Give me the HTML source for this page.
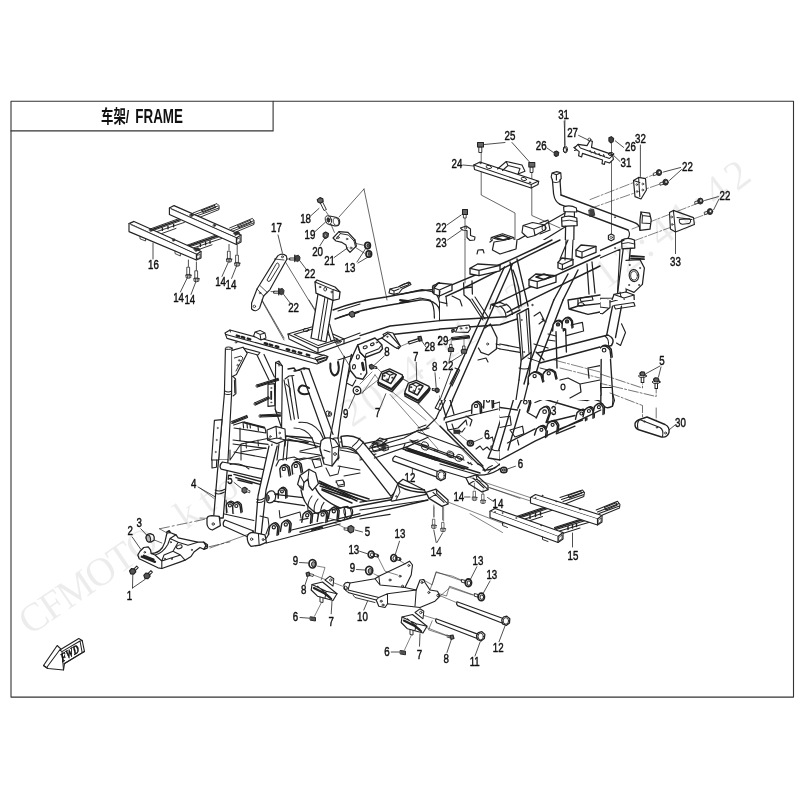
<!DOCTYPE html>
<html><head><meta charset="utf-8"><title>车架/ FRAME</title>
<style>html,body{margin:0;padding:0;background:#fff}svg{display:block;filter:grayscale(1)}text{font-family:"Liberation Sans","Noto Sans CJK SC",sans-serif}</style>
</head><body>
<svg width="800" height="800" viewBox="0 0 800 800" stroke-linejoin="round" stroke-linecap="round">
<rect width="800" height="800" fill="#fff"/>
<rect x="11" y="101.3" width="782.5" height="595.8" fill="none" stroke="#333" stroke-width="1.1"/>
<path d="M11,130.9 L273.1,130.9 L273.1,101.3" fill="none" stroke="#333" stroke-width="1.1"/>
<text transform="translate(101 123.2) scale(0.69 1)" font-size="18" font-weight="bold" fill="#111">车架/</text>
<text transform="translate(135.3 123.2) scale(0.66 1)" font-size="20.3" font-weight="bold" fill="#111">FRAME</text>
<path d="M 149.6,229.2 L 179,218.6 M 151,231.2 L 180.4,220.8 M 154.4,232.4 L 184.4,222.4 M 156,235.6 L 176,228.4" fill="none" stroke="#222" stroke-width="0.92"/>
<path d="M 151,230 L 180,219.6" fill="none" stroke="#222" stroke-width="1.49"/>
<path d="M 187,245.2 L 219,234 M 188.4,247.2 L 220.4,236.4 M 192,248.4 L 222,238.4 M 194,251.2 L 212,244.8" fill="none" stroke="#222" stroke-width="0.92"/>
<path d="M 188,246 L 219.6,235.2" fill="none" stroke="#222" stroke-width="1.49"/>
<path d="M 162.4,228 L 162.4,230.4 M 168,226.4 L 168,228.8 M 173.6,224.4 L 173.6,226.8 M 200.4,244 L 200.4,246.4 M 205.6,242.4 L 205.6,244.8 M 210,240.8 L 210,243.2" fill="none" stroke="#222" stroke-width="1.38"/>
<path d="M 193,213 L 217,203.6 L 219,205.6 L 219,209.6 L 198,218 M 195,214.4 L 218,206 M 196.4,216 L 219,208" fill="none" stroke="#222" stroke-width="0.92"/>
<path d="M 201.6,210.4 L 214.4,205.4 L 215.6,207.2 L 203.2,212.4 Z" fill="none" stroke="#222" stroke-width="1.03"/>
<path d="M 229.6,228 L 252.4,218.4 L 254,220.4 L 254,224.4 L 235,232.4 M 231,229.6 L 253.6,220.8 M 232.4,231.2 L 254,222.8" fill="none" stroke="#222" stroke-width="0.92"/>
<path d="M 237.6,225.6 L 250,220.4 L 251.2,222.4 L 239.2,227.6 Z" fill="none" stroke="#222" stroke-width="1.03"/>
<path d="M 194,249 L 198,247.6 L 200.4,249.6 L 196.4,251.6 Z M 233.6,233 L 238,231.2 L 240,233.2 L 236.4,235.2 Z" fill="#333" stroke="#222" stroke-width="0.57"/>
<path d="M 149.2,230 L 151.2,229.2 L 152,230.8 L 150,231.6 Z M 189.2,215.2 L 191.6,214.4 L 192.4,216 L 190,216.8 Z M 172.4,239.6 L 174.4,239.2 L 174.8,240.8 L 172.8,241.2 Z M 213.6,224.8 L 215.6,224.4 L 216,226 L 214,226.4 Z" fill="#333" stroke="#222" stroke-width="0.46"/>
<path d="M 169.4,208 L 174,205.6 L 241,235 L 236.4,238 Z" fill="#fff" stroke="#222" stroke-width="1.15"/>
<path d="M 169.4,208 L 169.4,214.4 L 236.4,244.4 L 236.4,238" fill="#fff" stroke="#222" stroke-width="1.15"/>
<path d="M 241,235 L 241,242 L 236.4,244.4" fill="#fff" stroke="#222" stroke-width="1.15"/>
<path d="M 237.2,239.2 L 240,237.6 L 240,241.2 L 237.2,242.8 Z" fill="none" stroke="#222" stroke-width="0.69"/>
<path d="M 129,223.6 L 134,221.4 L 201,251.6 L 196.4,254.4 Z" fill="#fff" stroke="#222" stroke-width="1.15"/>
<path d="M 129,223.6 L 129,231.6 L 196.4,260 L 196.4,254.4" fill="#fff" stroke="#222" stroke-width="1.15"/>
<path d="M 201,251.6 L 201,258 L 196.4,260" fill="#fff" stroke="#222" stroke-width="1.15"/>
<path d="M 197.2,255.6 L 200,254 L 200,257.6 L 197.2,258.8 Z" fill="none" stroke="#222" stroke-width="0.69"/>
<path d="M 140,236.4 L 140,238.8 L 145.6,241 L 145.6,238.8 M 175,251.2 L 175,253.6 L 180.4,256 L 180.4,253.6" fill="none" stroke="#222" stroke-width="0.8"/>
<path d="M 130.8,224.6 L 198,254.8 M 171.2,209 L 238,238.4" fill="none" stroke="#222" stroke-width="0.8"/>
<path d="M 149.2,229.6 L 151.6,228.6 L 153.2,230.4 L 150.8,231.6 Z M 194,249.2 L 196.8,248 L 198.8,250 L 196,251.4 Z M 189.6,214.8 L 192,213.8 L 193.6,215.6 L 191.2,216.8 Z M 233.6,233.2 L 236.4,232 L 238.4,234 L 235.6,235.4 Z M 172.4,239.4 L 174.4,238.8 L 175.2,240.4 L 173.2,241.2 Z M 213.2,224.8 L 215.2,224.2 L 216,225.8 L 214,226.6 Z" fill="#333" stroke="#222" stroke-width="0.57"/>
<path d="M 188.4,260 L 188.4,266.4" fill="none" stroke="#222" stroke-width="0.8"/>
<path d="M 196.4,262 L 196.4,270.4" fill="none" stroke="#222" stroke-width="0.8"/>
<path d="M 229,244.4 L 229,250" fill="none" stroke="#222" stroke-width="0.8"/>
<path d="M 237.2,245 L 237.2,254.4" fill="none" stroke="#222" stroke-width="0.8"/>
<g transform="translate(188.4 277.6) rotate(0) scale(0.2)" fill="#fff" stroke="#222" stroke-width="4"><rect x="-6" y="-52" width="12" height="42"/><ellipse cx="0" cy="-12" rx="14" ry="4"/><path d="M-12,-11 L-12,0 L0,3 L12,0 L12,-11 Z"/><path d="M-4.0,-9 L-4.0,2 M4.0,-9 L4.0,2" fill="none"/></g>
<g transform="translate(196.4 281.2) rotate(0) scale(0.2)" fill="#fff" stroke="#222" stroke-width="4"><rect x="-6" y="-52" width="12" height="42"/><ellipse cx="0" cy="-12" rx="14" ry="4"/><path d="M-12,-11 L-12,0 L0,3 L12,0 L12,-11 Z"/><path d="M-4.0,-9 L-4.0,2 M4.0,-9 L4.0,2" fill="none"/></g>
<g transform="translate(229 261.6) rotate(0) scale(0.2)" fill="#fff" stroke="#222" stroke-width="4"><rect x="-6" y="-52" width="12" height="42"/><ellipse cx="0" cy="-12" rx="14" ry="4"/><path d="M-12,-11 L-12,0 L0,3 L12,0 L12,-11 Z"/><path d="M-4.0,-9 L-4.0,2 M4.0,-9 L4.0,2" fill="none"/></g>
<g transform="translate(237.2 265.6) rotate(0) scale(0.2)" fill="#fff" stroke="#222" stroke-width="4"><rect x="-6" y="-52" width="12" height="42"/><ellipse cx="0" cy="-12" rx="14" ry="4"/><path d="M-12,-11 L-12,0 L0,3 L12,0 L12,-11 Z"/><path d="M-4.0,-9 L-4.0,2 M4.0,-9 L4.0,2" fill="none"/></g>
<path d="M 153,243 L 153,259" fill="none" stroke="#222" stroke-width="0.8"/>
<path d="M 187,278.4 L 180.4,292" fill="none" stroke="#222" stroke-width="0.8"/>
<path d="M 195.6,282.4 L 191,294.4" fill="none" stroke="#222" stroke-width="0.8"/>
<path d="M 228,263 L 222,276.4" fill="none" stroke="#222" stroke-width="0.8"/>
<path d="M 236.4,266.4 L 231.6,278.4" fill="none" stroke="#222" stroke-width="0.8"/>
<text transform="translate(153.4 269) scale(0.76 1)" font-size="12.8" text-anchor="middle" font-weight="normal" fill="#111" stroke="#111" stroke-width="0.45" >16</text>
<text transform="translate(178.6 302.4) scale(0.76 1)" font-size="12.8" text-anchor="middle" font-weight="normal" fill="#111" stroke="#111" stroke-width="0.45" >14</text>
<text transform="translate(189.8 304.4) scale(0.76 1)" font-size="12.8" text-anchor="middle" font-weight="normal" fill="#111" stroke="#111" stroke-width="0.45" >14</text>
<text transform="translate(220.6 286) scale(0.76 1)" font-size="12.8" text-anchor="middle" font-weight="normal" fill="#111" stroke="#111" stroke-width="0.45" >14</text>
<text transform="translate(231 289) scale(0.76 1)" font-size="12.8" text-anchor="middle" font-weight="normal" fill="#111" stroke="#111" stroke-width="0.45" >14</text>
<path d="M 282.4,257 L 328,332 M 257,292 L 284,340" fill="none" stroke="#222" stroke-width="0.69"/>
<path d="M 364,189 L 339,217 M 364,189 L 387,300" fill="none" stroke="#222" stroke-width="0.69"/>
<path d="M 278,255.6 Q 282.4,252.4 286.4,256 L 287,259 L 273,284 L 270,289.6 L 263.6,296 L 259.6,308 Q 256,313 251.6,309 L 251.6,303 L 257,289 L 276,258.4 Z" fill="#fff" stroke="#222" stroke-width="1.15"/>
<path d="M 277.6,263 Q 280,264 279,266.4 L 270,281 Q 267.6,282.4 267,280 L 275.6,265 Z" fill="none" stroke="#222" stroke-width="0.92"/>
<path d="M 257,289 L 263.6,296 M 260,285.6 L 267.2,292.4 M 274.4,259 L 284,260" fill="none" stroke="#222" stroke-width="0.8"/>
<circle cx="282.4" cy="256.8" r="1" fill="none" stroke="#222" stroke-width="0.8"/>
<circle cx="254.4" cy="306.4" r="1.2" fill="none" stroke="#222" stroke-width="0.8"/>
<circle cx="260" cy="293" r="0.8" fill="none" stroke="#222" stroke-width="0.7"/>
<path d="M 290,258 L 295.2,258 L 295.2,260 L 290,260 Z" fill="#fff" stroke="#222" stroke-width="0.92"/>
<path d="M 295.6,256 L 298.4,255.2 L 300,257.2 L 299.6,260.4 L 297.2,261.6 L 295.2,260 Z" fill="#444" stroke="#222" stroke-width="0.92"/>
<path d="M 294.8,255.2 L 294.8,261.6" fill="none" stroke="#222" stroke-width="1.38"/>
<path d="M 274,291.2 L 279.2,291.2 L 279.2,293.2 L 274,293.2 Z" fill="#fff" stroke="#222" stroke-width="0.92"/>
<path d="M 279.6,289.2 L 282.4,288.4 L 284,290.4 L 283.6,293.6 L 281.2,294.8 L 279.2,293.2 Z" fill="#444" stroke="#222" stroke-width="0.92"/>
<path d="M 278.8,288.4 L 278.8,294.8" fill="none" stroke="#222" stroke-width="1.38"/>
<path d="M 286.4,259 L 290,259" fill="none" stroke="#222" stroke-width="0.69"/>
<path d="M 271,291.6 L 274.4,291.6" fill="none" stroke="#222" stroke-width="0.69"/>
<path d="M 278,235 L 282.4,253" fill="none" stroke="#222" stroke-width="0.8"/>
<text transform="translate(276.4 232.4) scale(0.76 1)" font-size="12.8" text-anchor="middle" font-weight="normal" fill="#111" stroke="#111" stroke-width="0.45" >17</text>
<path d="M 300,261 L 307,270.4" fill="none" stroke="#222" stroke-width="0.8"/>
<text transform="translate(310 278.4) scale(0.76 1)" font-size="12.8" text-anchor="middle" font-weight="normal" fill="#111" stroke="#111" stroke-width="0.45" >22</text>
<path d="M 283.6,294.4 L 290,302.8" fill="none" stroke="#222" stroke-width="0.8"/>
<text transform="translate(293.6 311.6) scale(0.76 1)" font-size="12.8" text-anchor="middle" font-weight="normal" fill="#111" stroke="#111" stroke-width="0.45" >22</text>
<path d="M 320.4,202.4 L 322.4,201.6 L 326.4,209.6 L 324.4,210.4 Z" fill="#fff" stroke="#222" stroke-width="0.92"/>
<path d="M 317.2,199.6 L 320,197.6 L 322.8,198.8 L 323.2,201.6 L 320.4,203.2 L 318,202 Z" fill="#666" stroke="#222" stroke-width="1.15"/>
<path d="M 311,215.6 L 319,208.4" fill="none" stroke="#222" stroke-width="0.8"/>
<text transform="translate(305.6 223) scale(0.76 1)" font-size="12.8" text-anchor="middle" font-weight="normal" fill="#111" stroke="#111" stroke-width="0.45" >18</text>
<path d="M 326,211.6 L 329.6,217" fill="none" stroke="#222" stroke-width="0.69"/>
<path d="M 329.6,216 L 336,217.2 Q 340.4,218.4 339.6,223 Q 339,226.4 335,226 L 329,224.4 Z" fill="#fff" stroke="#222" stroke-width="1.15"/>
<ellipse cx="328.4" cy="220" rx="3" ry="4.4" fill="#fff" stroke="#222" stroke-width="0.9" transform="rotate(-15 328.4 220)"/>
<ellipse cx="328.4" cy="220" rx="1.4" ry="2.2" fill="#333" stroke="#222" stroke-width="0.9" transform="rotate(-15 328.4 220)"/>
<ellipse cx="336" cy="221.6" rx="2.8" ry="4" fill="none" stroke="#222" stroke-width="0.7" transform="rotate(-15 336 221.6)"/>
<path d="M 315,231.6 L 325.6,222" fill="none" stroke="#222" stroke-width="0.8"/>
<text transform="translate(310 239) scale(0.76 1)" font-size="12.8" text-anchor="middle" font-weight="normal" fill="#111" stroke="#111" stroke-width="0.45" >19</text>
<path d="M 323.2,233.6 L 325.6,232 L 328.4,233.6 L 328,236.8 L 325.6,238.4 L 323.2,236.8 Z" fill="#666" stroke="#222" stroke-width="1.15"/>
<circle cx="325.8" cy="235.2" r="1" fill="#fff" stroke="#222" stroke-width="0.6"/>
<path d="M 320,245.6 L 324.8,238" fill="none" stroke="#222" stroke-width="0.8"/>
<text transform="translate(317.6 256) scale(0.76 1)" font-size="12.8" text-anchor="middle" font-weight="normal" fill="#111" stroke="#111" stroke-width="0.45" >20</text>
<path d="M 331,224.4 L 334.4,232.4" fill="none" stroke="#222" stroke-width="0.69"/>
<path d="M 333,238 L 339,231.6 L 348,232.4 L 355,240 L 356.4,246 L 350,252.4 L 347,249 L 346,245 L 342,242.4 L 336,241 Z" fill="#fff" stroke="#222" stroke-width="1.15"/>
<path d="M 339,231.6 L 340.4,233.6 L 348.4,235 L 354,241 L 355,240 M 354,241 L 355.6,247 M 340.4,233.6 L 336,239" fill="none" stroke="#222" stroke-width="0.92"/>
<circle cx="338" cy="237.6" r="1.2" fill="none" stroke="#222" stroke-width="0.7"/>
<circle cx="347" cy="239" r="0.8" fill="none" stroke="#222" stroke-width="0.7"/>
<circle cx="351" cy="248" r="1" fill="none" stroke="#222" stroke-width="0.7"/>
<path d="M 334,257.6 L 348,247.6" fill="none" stroke="#222" stroke-width="0.8"/>
<text transform="translate(329.6 265) scale(0.76 1)" font-size="12.8" text-anchor="middle" font-weight="normal" fill="#111" stroke="#111" stroke-width="0.45" >21</text>
<ellipse cx="367.6" cy="245.6" rx="2.8" ry="3.2" fill="#fff" stroke="#222" stroke-width="1.7" transform="rotate(0 367.6 245.6)"/>
<ellipse cx="368.2" cy="245.6" rx="1.4" ry="1.8" fill="#555" stroke="#222" stroke-width="0.8" transform="rotate(0 368.2 245.6)"/>
<ellipse cx="368.8" cy="254" rx="2.8" ry="3.2" fill="#fff" stroke="#222" stroke-width="1.7" transform="rotate(0 368.8 254)"/>
<ellipse cx="369.4" cy="254" rx="1.4" ry="1.8" fill="#555" stroke="#222" stroke-width="0.8" transform="rotate(0 369.4 254)"/>
<path d="M 356.4,243.6 L 363.6,245.2" fill="none" stroke="#222" stroke-width="0.69"/>
<path d="M 356.4,248 L 364.4,253.2" fill="none" stroke="#222" stroke-width="0.69"/>
<path d="M 357,262 L 366,248" fill="none" stroke="#222" stroke-width="0.8"/>
<path d="M 358,263 L 368,257" fill="none" stroke="#222" stroke-width="0.8"/>
<text transform="translate(350 271.6) scale(0.76 1)" font-size="12.8" text-anchor="middle" font-weight="normal" fill="#111" stroke="#111" stroke-width="0.45" >13</text>
<path d="M 262,300 L 284,338 M 309,300 L 328,330 M 328,330 L 352,370" fill="none" stroke="#222" stroke-width="0.69"/>
<path d="M 257,355 L 269,380 M 264,354.4 L 274.4,377" fill="none" stroke="#222" stroke-width="1.15"/>
<path d="M 284,380 L 291,420 M 292,376 L 298.4,418.4 M 288,379 L 294.4,419.2" fill="none" stroke="#222" stroke-width="1.15"/>
<path d="M 285,379 L 289,376 L 294,375.6 M 286,384 L 290,388 L 290.4,396" fill="none" stroke="#222" stroke-width="1.03"/>
<path d="M 312,330 L 319,300 M 320,328 L 328,300 M 315.6,329.6 L 323,300" fill="none" stroke="#222" stroke-width="1.15"/>
<path d="M 288,334 L 315,326 L 344,339 L 318,348 Z" fill="#fff" stroke="#222" stroke-width="1.15"/>
<path d="M 294,334.4 L 314.4,328.4 L 338,339.2 L 318.4,345.6 Z" fill="none" stroke="#222" stroke-width="1.03"/>
<path d="M 288,334 L 289,339 L 318,353 L 318,348 M 318,353 L 344,343.6 L 344,339" fill="none" stroke="#222" stroke-width="1.15"/>
<ellipse cx="306" cy="330" rx="2.8" ry="1.6" fill="none" stroke="#222" stroke-width="0.9" transform="rotate(0 306 330)"/>
<path d="M 326.4,325 L 329.6,324 L 334.4,340 L 331,341 Z" fill="#fff" stroke="#222" stroke-width="1.03"/>
<ellipse cx="338" cy="341.6" rx="3.2" ry="1.6" fill="none" stroke="#222" stroke-width="0.9" transform="rotate(0 338 341.6)"/>
<ellipse cx="338" cy="341.6" rx="1.6" ry="0.8" fill="none" stroke="#222" stroke-width="0.7" transform="rotate(0 338 341.6)"/>
<path d="M 344,339 L 360,333 M 344,343.6 L 360,338 M 338,360 L 360,353" fill="none" stroke="#222" stroke-width="1.15"/>
<path d="M 349,314 L 352,312.4 L 354,315 L 352,317 Z" fill="#666" stroke="#222" stroke-width="1.03"/>
<path d="M 338,311 L 360,304 M 340,317 L 349,314.4" fill="none" stroke="#222" stroke-width="1.15"/>
<path d="M 225,333 L 230,330 L 328,356.6 L 326.4,360 L 317,364 L 227,338.4 Z" fill="#fff" stroke="#222" stroke-width="1.15"/>
<path d="M 226,334.4 L 320,360.4 M 230,330 L 230.4,332 M 320,360.4 L 326.4,357.6" fill="none" stroke="#222" stroke-width="1.03"/>
<path d="M 236.8,335.6 L 239.2,336.4" fill="none" stroke="#222" stroke-width="2.53"/>
<path d="M 241.8,337 L 244.2,337.8" fill="none" stroke="#222" stroke-width="2.53"/>
<path d="M 247.8,338.6 L 250.2,339.4" fill="none" stroke="#222" stroke-width="2.53"/>
<path d="M 264.8,343.2 L 267.2,344" fill="none" stroke="#222" stroke-width="2.53"/>
<path d="M 269.8,344.6 L 272.2,345.4" fill="none" stroke="#222" stroke-width="2.53"/>
<path d="M 275.8,346.2 L 278.2,347" fill="none" stroke="#222" stroke-width="2.53"/>
<path d="M 286.8,349.2 L 289.2,350" fill="none" stroke="#222" stroke-width="2.53"/>
<path d="M 292.8,350.8 L 295.2,351.6" fill="none" stroke="#222" stroke-width="2.53"/>
<path d="M 298.8,352.4 L 301.2,353.2" fill="none" stroke="#222" stroke-width="2.53"/>
<path d="M 306.8,354.6 L 309.2,355.4" fill="none" stroke="#222" stroke-width="2.53"/>
<circle cx="236" cy="342.4" r="0.8" fill="none" stroke="#222" stroke-width="0.7"/>
<circle cx="304" cy="369" r="0.8" fill="none" stroke="#222" stroke-width="0.7"/>
<path d="M 253.6,336 L 255,332 L 260,330.4 L 265,333 L 266,338 L 261,340 Z M 255,332 L 260,334.4 L 265,333 M 260,334.4 L 261,340" fill="#fff" stroke="#222" stroke-width="1.03"/>
<path d="M 315,358 L 324,355 L 327,356.4 L 326,359.6 L 318,362.4 Z" fill="#fff" stroke="#222" stroke-width="1.03"/>
<path d="M 317,360 L 325,357.6" fill="none" stroke="#222" stroke-width="1.84"/>
<path d="M 243,348 L 260,352.4 L 258,355 L 245,351.6 Z" fill="#fff" stroke="#222" stroke-width="1.03"/>
<path d="M 288,369 L 294,368 L 296,371 L 304,368 L 309,369 M 294,371 L 300,370" fill="none" stroke="#222" stroke-width="1.38"/>
<path d="M 225.4,349 L 224.4,393.6 L 218.6,460 L 228,460 L 231.6,393.6 L 232,348 Z" fill="#fff" stroke="#222" stroke-width="1.15"/>
<ellipse cx="228.6" cy="348.2" rx="3.4" ry="1.2" fill="#fff" stroke="#222" stroke-width="1.0" transform="rotate(0 228.6 348.2)"/>
<path d="M 224.4,393.6 Q 228,395.6 231.6,393.6 M 224.8,391 Q 228.2,392.8 231.6,391" fill="none" stroke="#222" stroke-width="1.03"/>
<path d="M 232,350.4 L 243,347.2 L 247.2,353.2 L 236.4,374.4 L 232.4,376.4" fill="#fff" stroke="#222" stroke-width="1.15"/>
<path d="M 234.4,358 L 241,356 L 243,358 L 236,371" fill="none" stroke="#222" stroke-width="0.92"/>
<circle cx="239.2" cy="360.4" r="0.8" fill="none" stroke="#222" stroke-width="0.7"/>
<circle cx="237.6" cy="365.2" r="0.8" fill="none" stroke="#222" stroke-width="0.7"/>
<path d="M 232.8,376.4 L 235.6,379 L 236,393.6 L 233,396 M 234.4,380 L 234.8,393" fill="none" stroke="#222" stroke-width="1.03"/>
<path d="M 214.4,420.4 L 222,419.6 L 218.6,460 L 211.6,460 Z" fill="#fff" stroke="#222" stroke-width="1.15"/>
<circle cx="217.6" cy="428" r="0.6" fill="none" stroke="#222" stroke-width="0.6"/>
<circle cx="216.6" cy="440" r="0.6" fill="none" stroke="#222" stroke-width="0.6"/>
<circle cx="215.6" cy="452" r="0.6" fill="none" stroke="#222" stroke-width="0.6"/>
<path d="M 275.6,362.4 L 275.2,409 L 281.6,428 L 282.4,366 Z" fill="#fff" stroke="#222" stroke-width="1.15"/>
<path d="M 275.6,362.4 L 279,361 L 282.4,366 M 279,361 L 279,366" fill="none" stroke="#222" stroke-width="1.03"/>
<path d="M 268,384.4 L 274.4,383.6 L 274.8,405.6 L 268,406.4 Z" fill="#fff" stroke="#222" stroke-width="1.15"/>
<circle cx="271.2" cy="388" r="0.6" fill="none" stroke="#222" stroke-width="0.6"/>
<circle cx="271.2" cy="402.4" r="0.6" fill="none" stroke="#222" stroke-width="0.6"/>
<path d="M 271.2,391.6 L 271.2,399" fill="none" stroke="#222" stroke-width="1.84"/>
<path d="M 275.2,409 L 276,412 L 281,413" fill="none" stroke="#222" stroke-width="1.03"/>
<path d="M 257.3,387 L 278.7,380.2" fill="none" stroke="#222" stroke-width="1.03"/>
<path d="M 256.7,385 L 278.1,378.2" fill="none" stroke="#222" stroke-width="1.03"/>
<circle cx="257" cy="386" r="1.1" fill="#fff" stroke="#222" stroke-width="0.9"/>
<path d="M 258.2,385.8 L 278.4,379.2" fill="none" stroke="#222" stroke-width="1.49"/>
<path d="M 255.5,405 L 269.5,398.6" fill="none" stroke="#222" stroke-width="1.03"/>
<path d="M 254.5,403 L 268.5,396.6" fill="none" stroke="#222" stroke-width="1.03"/>
<circle cx="255" cy="404" r="1.1" fill="#fff" stroke="#222" stroke-width="0.9"/>
<path d="M 256.2,403.8 L 269,397.6" fill="none" stroke="#222" stroke-width="1.49"/>
<path d="M 260,417.1 L 280.4,416.3" fill="none" stroke="#222" stroke-width="1.03"/>
<path d="M 260,414.9 L 280.4,414.1" fill="none" stroke="#222" stroke-width="1.03"/>
<circle cx="260" cy="416" r="1.1" fill="#fff" stroke="#222" stroke-width="0.9"/>
<path d="M 261.2,415.8 L 280.4,415.2" fill="none" stroke="#222" stroke-width="1.49"/>
<path d="M 232.4,423.4 L 247.6,417.4" fill="none" stroke="#222" stroke-width="1.03"/>
<path d="M 231.6,421.4 L 246.8,415.4" fill="none" stroke="#222" stroke-width="1.03"/>
<circle cx="232" cy="422.4" r="1.1" fill="#fff" stroke="#222" stroke-width="0.9"/>
<path d="M 233.2,422.2 L 247.2,416.4" fill="none" stroke="#222" stroke-width="1.49"/>
<path d="M 233.6,425 L 243,422 L 265,428 L 266,433 L 234,428 M 243,422 L 243.6,428 M 247,423.6 L 247.4,428 M 258,426.4 L 258.4,430.4 M 250,424.4 L 250.4,428" fill="none" stroke="#222" stroke-width="1.15"/>
<path d="M 244.4,422.4 L 264,427.6" fill="none" stroke="#222" stroke-width="2.07"/>
<path d="M 233,440 L 268,444.4 M 233,444 L 266,448.4 M 240,428 L 240,441 M 234,452 L 266,458" fill="none" stroke="#222" stroke-width="1.15"/>
<path d="M 267,430 L 276,426.4 L 285,429 L 285.6,440 L 277,443.6 L 267.6,440 Z" fill="#fff" stroke="#222" stroke-width="1.15"/>
<path d="M 276,426.4 L 276.8,438 L 285.6,440 M 276.8,438 L 267.6,440" fill="none" stroke="#222" stroke-width="1.03"/>
<circle cx="270.4" cy="436.4" r="0.8" fill="none" stroke="#222" stroke-width="0.7"/>
<circle cx="279.6" cy="433" r="0.8" fill="none" stroke="#222" stroke-width="0.7"/>
<circle cx="280.4" cy="438" r="0.8" fill="none" stroke="#222" stroke-width="0.7"/>
<path d="M 272,444 L 270,460 M 279,444 L 277,460 M 285,440 L 283,460 M 288,440 L 286.4,460" fill="none" stroke="#222" stroke-width="1.15"/>
<path d="M 286,436 L 312,438 M 286,440 L 308,442.4" fill="none" stroke="#222" stroke-width="1.61"/>
<path d="M 330.4,363.6 Q 329.6,373 334.4,375.6 Q 339,374.4 338.8,367 M 338.8,367 L 338,362" fill="none" stroke="#222" stroke-width="2.07"/>
<path d="M 309,388 Q 300,382 298.4,390.4 Q 301,396 309,393.6" fill="none" stroke="#222" stroke-width="2.07"/>
<path d="M 301,371 L 325,438 M 309,369 L 333,434.4" fill="none" stroke="#222" stroke-width="1.26"/>
<path d="M 344.4,356.4 L 333.6,420 L 330,438 M 351.4,354.4 L 340.4,420 L 338,438" fill="none" stroke="#222" stroke-width="1.26"/>
<ellipse cx="328" cy="413.6" rx="2" ry="2.8" fill="none" stroke="#222" stroke-width="0.9" transform="rotate(-20 328 413.6)"/>
<path d="M 325,438 Q 330,441 334.4,438 L 338,438" fill="none" stroke="#222" stroke-width="1.03"/>
<path d="M 299,422.4 Q 312,421 320,432 L 324,440 M 294,428 Q 306,428 312,438 L 316,448" fill="none" stroke="#222" stroke-width="1.15"/>
<path d="M 340,438 Q 352,436 360,444 M 340,448 Q 350,447 358,454 M 324,440 L 322.4,452 L 328,460 M 338,438 L 340,448" fill="none" stroke="#222" stroke-width="1.15"/>
<path d="M 320,448 L 328,446 L 336,450 L 338,460 M 328,446 L 329,454" fill="none" stroke="#222" stroke-width="1.03"/>
<path d="M 294,460 L 304,458 L 320,460 M 300,452 L 320,455" fill="none" stroke="#222" stroke-width="1.03"/>
<path d="M 333,310 Q 356,301 386,297 L 418,291 L 439,289 M 335,319 Q 358,310 390,305 L 420,300 Q 434,299 439,308 L 440.4,316" fill="none" stroke="#222" stroke-width="1.38"/>
<path d="M 349.6,312.4 L 352.4,311.2 L 354.8,313.2 L 354.4,316.4 L 351.6,317.2 L 349.6,315.6 Z" fill="#666" stroke="#222" stroke-width="1.03"/>
<path d="M 354.4,313.6 L 359,312" fill="none" stroke="#222" stroke-width="1.38"/>
<path d="M 389,293 L 390,289 L 398,287 L 409,282 L 411,284.4 L 402,289 L 399,293 L 394,294.4 Z" fill="#fff" stroke="#222" stroke-width="1.15"/>
<path d="M 390,289 L 394,291 L 399,289 M 394,291 L 394,294.4" fill="none" stroke="#222" stroke-width="1.03"/>
<path d="M 402,302.4 L 408,301.6" fill="none" stroke="#222" stroke-width="1.84"/>
<path d="M 318,294 L 311,338 L 326,342 L 333,300 Z" fill="#fff" stroke="#222" stroke-width="1.26"/>
<path d="M 325,297 L 318,340 M 328,298 L 321,341" fill="none" stroke="#222" stroke-width="1.03"/>
<path d="M 315,282 L 317,280 L 335,287 L 340,292 L 339.2,299 L 333,300.4 L 316,293.2 Z" fill="#fff" stroke="#222" stroke-width="1.26"/>
<path d="M 315,282 L 333,289.6 L 340,292 M 333,289.6 L 333,300.4" fill="none" stroke="#222" stroke-width="1.03"/>
<circle cx="320" cy="287" r="0.8" fill="none" stroke="#222" stroke-width="0.8"/>
<ellipse cx="325.2" cy="289.2" rx="1.4" ry="1.8" fill="none" stroke="#222" stroke-width="0.9" transform="rotate(0 325.2 289.2)"/>
<circle cx="331.6" cy="292" r="0.8" fill="none" stroke="#222" stroke-width="0.8"/>
<path d="M 432.4,287 L 438,283 L 448,282 L 450,285 M 432.4,287 L 433,293 L 439,295 L 440,289 L 450,287 M 438,283 L 440,289" fill="none" stroke="#222" stroke-width="1.15"/>
<path d="M 439,308 L 440,304 L 448,302.4 L 450,304 M 440.4,316 L 450,315" fill="none" stroke="#222" stroke-width="1.15"/>
<path d="M 360,335.6 L 390,326 L 440,320.6 L 500,316 M 360,346.4 L 390,334.8 L 440,329.2 L 488,325.2" fill="none" stroke="#222" stroke-width="1.38"/>
<path d="M 440,312 L 440.4,303 L 446,300 L 454,302 L 454.4,310 M 440.4,303 L 448,305 L 454,302 M 448,305 L 448.4,312" fill="none" stroke="#222" stroke-width="1.03"/>
<path d="M 448,318 L 449,309 L 460,307 L 468,311 L 467.6,317 M 449,309 L 460,312 L 468,311" fill="none" stroke="#222" stroke-width="1.03"/>
<path d="M 488,312 L 492,306 L 500,308 L 504,314 M 490,304 L 500,300" fill="none" stroke="#222" stroke-width="1.03"/>
<path d="M 509,313.6 L 520,308 M 507,322 L 520,317 M 500,300 L 512,312 M 508,300 L 520,310" fill="none" stroke="#222" stroke-width="1.15"/>
<path d="M 500,344 L 520,347 M 501,348 L 520,351 M 500,344 L 501,348" fill="none" stroke="#222" stroke-width="1.15"/>
<path d="M 516,324 L 514,388 M 520,360 L 519,388" fill="none" stroke="#222" stroke-width="1.15"/>
<path d="M 383,334.4 L 387.6,332 L 393,333 L 400,345.6 L 397,348.4 L 390,343.6 Z" fill="#fff" stroke="#222" stroke-width="1.15"/>
<circle cx="388.4" cy="336" r="0.8" fill="none" stroke="#222" stroke-width="0.7"/>
<circle cx="397" cy="345.2" r="0.8" fill="none" stroke="#222" stroke-width="0.7"/>
<path d="M 477,327.6 L 436,418.4 M 485.2,326 L 444,420" fill="none" stroke="#222" stroke-width="1.26"/>
<path d="M 485.2,334 L 490,330 L 496.4,343 L 496,354.4 L 488,360.4 L 480.4,358.4 L 478,354" fill="none" stroke="#222" stroke-width="1.15"/>
<circle cx="487" cy="343" r="1" fill="none" stroke="#222" stroke-width="0.8"/>
<path d="M 455.6,368 L 460,370 L 440.4,410.4 L 435.2,408 Z" fill="#fff" stroke="#222" stroke-width="1.15"/>
<path d="M 457.6,369 L 438,409" fill="none" stroke="#222" stroke-width="0.92"/>
<circle cx="456" cy="375" r="0.6" fill="none" stroke="#222" stroke-width="0.6"/>
<circle cx="440" cy="404" r="0.6" fill="none" stroke="#222" stroke-width="0.6"/>
<path d="M 455.6,332 L 458,326.4 L 469,325 L 470.4,329 L 468,332.4 Z" fill="#fff" stroke="#222" stroke-width="1.15"/>
<circle cx="461" cy="328.4" r="0.8" fill="none" stroke="#222" stroke-width="0.7"/>
<circle cx="466.4" cy="328" r="0.8" fill="none" stroke="#222" stroke-width="0.7"/>
<path d="M 451.6,330 L 454,329.2 L 454.4,331.6 L 452,332.4 Z" fill="#666" stroke="#222" stroke-width="1.03"/>
<path d="M 451.6,337.6 L 469,335.6 L 469.6,338 L 452.4,340 Z" fill="#fff" stroke="#222" stroke-width="1.03"/>
<path d="M 452.4,338.8 L 469,336.8" fill="none" stroke="#222" stroke-width="1.84"/>
<text transform="translate(443 345.2) scale(0.76 1)" font-size="12.8" text-anchor="middle" font-weight="normal" fill="#111" stroke="#111" stroke-width="0.45" >29</text>
<path d="M 448,341 L 451.6,338.4" fill="none" stroke="#222" stroke-width="0.8"/>
<path d="M 450,344.4 L 452,344.4 L 452,348.4 L 450,348.4 Z" fill="#fff" stroke="#222" stroke-width="0.8"/>
<path d="M 448.2,348.8 L 449.4,347.6 L 452.6,347.6 L 453.8,348.8 L 453.4,351.6 L 448.6,351.6 Z" fill="#666" stroke="#222" stroke-width="1.03"/>
<path d="M 463,346 L 465,346 L 465,350 L 463,350 Z" fill="#fff" stroke="#222" stroke-width="0.8"/>
<path d="M 461.2,350.4 L 462.4,349.2 L 465.6,349.2 L 466.8,350.4 L 466.4,353.2 L 461.6,353.2 Z" fill="#666" stroke="#222" stroke-width="1.03"/>
<path d="M 451.2,340 L 451.2,344.4 M 464,339 L 464,346" fill="none" stroke="#222" stroke-width="0.57"/>
<text transform="translate(448 370.4) scale(0.76 1)" font-size="12.8" text-anchor="middle" font-weight="normal" fill="#111" stroke="#111" stroke-width="0.45" >22</text>
<path d="M 449,361.6 L 451,352.4" fill="none" stroke="#222" stroke-width="0.8"/>
<path d="M 450.4,362 L 463,354" fill="none" stroke="#222" stroke-width="0.8"/>
<path d="M 390,394.4 L 438,449 M 418.4,404 L 472,460 M 378,380 L 360,394 M 372,372 L 360,384 M 403,379 L 408,382" fill="none" stroke="#222" stroke-width="0.57"/>
<path d="M 360,444.4 L 380,440.4 L 410,433.6 L 426,428 L 436,418.4 M 360,454 L 382,449 L 418,440 M 372,444 L 380,438 L 387,440 L 380,446" fill="none" stroke="#222" stroke-width="1.26"/>
<path d="M 418,428 L 426,425 M 420,431 L 429,428" fill="none" stroke="#222" stroke-width="1.03"/>
<path d="M 418,432 L 464,449 M 410,440 L 464,460 M 412,442.4 L 454,458" fill="none" stroke="#222" stroke-width="1.26"/>
<ellipse cx="425" cy="444.4" rx="3.6" ry="2.4" fill="none" stroke="#222" stroke-width="0.9" transform="rotate(20 425 444.4)"/>
<ellipse cx="450.4" cy="453.6" rx="3.6" ry="2.4" fill="none" stroke="#222" stroke-width="0.9" transform="rotate(20 450.4 453.6)"/>
<ellipse cx="460" cy="457" rx="3.6" ry="2.4" fill="none" stroke="#222" stroke-width="0.9" transform="rotate(20 460 457)"/>
<circle cx="435" cy="449.6" r="0.6" fill="#333" stroke="#222" stroke-width="0.5"/>
<circle cx="437.6" cy="450.6" r="0.6" fill="#333" stroke="#222" stroke-width="0.5"/>
<path d="M 407,448 L 439,459 M 408,450 L 436,460" fill="none" stroke="#222" stroke-width="1.72"/>
<ellipse cx="470.4" cy="443.2" rx="3" ry="2.6" fill="#fff" stroke="#222" stroke-width="1.7" transform="rotate(0 470.4 443.2)"/>
<ellipse cx="470.4" cy="443.2" rx="1.4" ry="1.2" fill="#999" stroke="#222" stroke-width="1.0" transform="rotate(0 470.4 443.2)"/>
<text transform="translate(487 439) scale(0.76 1)" font-size="12.8" text-anchor="middle" font-weight="normal" fill="#111" stroke="#111" stroke-width="0.45" >6</text>
<path d="M 474.4,441.6 L 482.4,438" fill="none" stroke="#222" stroke-width="0.8"/>
<path d="M 470.4,443.2 L 456,432" fill="none" stroke="#222" stroke-width="0.57"/>
<path d="M 372,448 L 374,443 L 382,441.6 L 386,444.4 L 385.6,449 M 374,443 L 380,445.6 L 386,444.4" fill="none" stroke="#222" stroke-width="1.03"/>
<path d="M 360,458 L 376,454 M 360,460 L 368,458" fill="none" stroke="#222" stroke-width="1.15"/>
<path d="M 212,460 L 212,468 L 216.4,467.2 L 216.8,460" fill="none" stroke="#222" stroke-width="1.15"/>
<path d="M 218.6,460 L 217.6,470 L 213.6,518 L 223.2,518 L 227.2,470 L 228,460" fill="#fff" stroke="#222" stroke-width="1.26"/>
<path d="M 215.2,490 Q 219.6,492.4 224.8,489.2 M 215,493 Q 219.6,495.2 224.4,492" fill="none" stroke="#222" stroke-width="1.03"/>
<path d="M 230,460 L 241,444 L 270,438 M 241,444 L 241,460 M 230,450 L 230,460 M 246,442.4 L 246.4,448 M 258,440 L 258.4,446 M 241,452 L 266,448" fill="none" stroke="#222" stroke-width="1.03"/>
<path d="M 222.4,462 Q 218.4,465.6 221.2,469.2 L 264,479.2 L 268,470.4 Z" fill="#fff" stroke="#222" stroke-width="1.26"/>
<path d="M 230,464.4 Q 240,462 249,469" fill="none" stroke="#222" stroke-width="1.03"/>
<path d="M 234,474.4 L 264.4,482.4 M 236,477.6 L 260,484.4 M 238,480 L 252,483.6" fill="none" stroke="#222" stroke-width="1.49"/>
<path d="M 269,446 L 258,496 L 255,534 L 261.2,534.4 L 266,490 L 277.2,446" fill="#fff" stroke="#222" stroke-width="1.26"/>
<path d="M 256.8,499.2 Q 260.4,501.2 264.4,498 M 256.6,502 Q 260,503.6 264,500.8" fill="none" stroke="#222" stroke-width="1.03"/>
<path d="M 242,488.4 L 244.8,487.2 L 247.2,488.8 L 246.8,492 L 244.4,493.2 L 242,491.6 Z" fill="#666" stroke="#222" stroke-width="1.03"/>
<path d="M 246.8,489.6 L 250,490.8 L 249.6,492.8 L 246.8,491.6" fill="#fff" stroke="#222" stroke-width="0.8"/>
<text transform="translate(230 484) scale(0.76 1)" font-size="12.8" text-anchor="middle" font-weight="normal" fill="#111" stroke="#111" stroke-width="0.45" >5</text>
<path d="M 234,482.4 L 241,488" fill="none" stroke="#222" stroke-width="0.8"/>
<path d="M 227.8,512 L 227.4,504.4 Q 230.6,498.2 234.8,503.8 L 235.8,511.2" fill="#fff" stroke="#222" stroke-width="1.44"/>
<path d="M 226.6,512.8 L 226.2,505.2 Q 229.4,499 233.6,504.6 L 234.6,512" fill="#fff" stroke="#222" stroke-width="1.44"/>
<circle cx="229.9" cy="505.4" r="1.5" fill="none" stroke="#222" stroke-width="1.2"/>
<path d="M 234.2,512.6 L 233.8,505 Q 237,498.8 241.2,504.4 L 242.2,511.8" fill="#fff" stroke="#222" stroke-width="1.44"/>
<path d="M 233,513.4 L 232.6,505.8 Q 235.8,499.6 240,505.2 L 241,512.6" fill="#fff" stroke="#222" stroke-width="1.44"/>
<circle cx="236.3" cy="506" r="1.5" fill="none" stroke="#222" stroke-width="1.2"/>
<path d="M 224.4,514 L 254,520.4 M 226,500 L 227,512" fill="none" stroke="#222" stroke-width="1.03"/>
<path d="M 207,518 Q 208,515.6 212,515.6 L 219.2,516.4 L 220.4,525.6 L 212.4,530 Q 207.6,529 207,524 Z" fill="#fff" stroke="#222" stroke-width="1.26"/>
<circle cx="213.2" cy="524" r="1.2" fill="none" stroke="#222" stroke-width="0.9"/>
<path d="M 219.2,516.4 L 220,520" fill="none" stroke="#222" stroke-width="0.92"/>
<path d="M 225,520 Q 222.4,522.4 223.6,526 L 248,537 L 253.6,531 Z" fill="#fff" stroke="#222" stroke-width="1.26"/>
<path d="M 247.2,537 Q 248,533 252.4,532.4 L 265,534.8 L 266.4,542.4 L 260,545.2 L 251,546.4 Q 247.2,543 247.2,537 Z" fill="#fff" stroke="#222" stroke-width="1.26"/>
<circle cx="251.6" cy="539.2" r="1.2" fill="none" stroke="#222" stroke-width="0.9"/>
<circle cx="263.2" cy="539.6" r="1" fill="none" stroke="#222" stroke-width="0.9"/>
<path d="M 258.4,533.6 L 259.2,545.6" fill="none" stroke="#222" stroke-width="1.03"/>
<path d="M 269.8,533.4 L 271.2,525.4 Q 276,519.6 279.2,526.6 L 278.4,534.6" fill="#fff" stroke="#222" stroke-width="1.44"/>
<path d="M 268.4,534.2 L 269.8,526.2 Q 274.8,520.4 277.8,527.4 L 277,535.4" fill="#fff" stroke="#222" stroke-width="1.44"/>
<circle cx="273.8" cy="527.3" r="1.6" fill="none" stroke="#222" stroke-width="1.2"/>
<path d="M 281.8,530.6 L 283.2,522.6 Q 288,516.8 291.2,523.8 L 290.4,531.8" fill="#fff" stroke="#222" stroke-width="1.44"/>
<path d="M 280.4,531.4 L 281.8,523.4 Q 286.8,517.6 289.8,524.6 L 289,532.6" fill="#fff" stroke="#222" stroke-width="1.44"/>
<circle cx="285.8" cy="524.5" r="1.6" fill="none" stroke="#222" stroke-width="1.2"/>
<path d="M 266.4,538 L 269,534 M 291.6,530 L 360,513.6 M 266.4,543 L 340,524" fill="none" stroke="#222" stroke-width="1.26"/>
<path d="M 266,534 L 269,526 L 268,518 M 260,516 L 268,518" fill="none" stroke="#222" stroke-width="1.03"/>
<path d="M 282,476.2 L 281.2,468.2 Q 284.2,461.2 289.2,467 L 290.6,475" fill="#fff" stroke="#222" stroke-width="1.44"/>
<path d="M 280.6,477 L 279.8,469 Q 282.8,462 287.8,467.8 L 289.2,475.8" fill="#fff" stroke="#222" stroke-width="1.44"/>
<circle cx="283.8" cy="468.9" r="1.6" fill="none" stroke="#222" stroke-width="1.2"/>
<path d="M 294,473.2 L 293.2,465.2 Q 296.2,458.2 301.2,464 L 302.6,472" fill="#fff" stroke="#222" stroke-width="1.44"/>
<path d="M 292.6,474 L 291.8,466 Q 294.8,459 299.8,464.8 L 301.2,472.8" fill="#fff" stroke="#222" stroke-width="1.44"/>
<circle cx="295.8" cy="465.9" r="1.6" fill="none" stroke="#222" stroke-width="1.2"/>
<path d="M 279,460 L 294,457 L 300,460 M 276,466 L 279,460" fill="none" stroke="#222" stroke-width="1.15"/>
<path d="M 279.4,497.4 L 279.6,490.2 Q 283.2,484.4 286.8,490.2 L 287,497.4" fill="#fff" stroke="#222" stroke-width="1.44"/>
<path d="M 278.2,498.2 L 278.4,491 Q 282,485.2 285.6,491 L 285.8,498.2" fill="#fff" stroke="#222" stroke-width="1.44"/>
<circle cx="282" cy="491.4" r="1.4" fill="none" stroke="#222" stroke-width="1.2"/>
<path d="M 266,496 Q 268,490 273,491 Q 277,494 275,500 Q 271,504.4 267,502 Z" fill="#fff" stroke="#222" stroke-width="1.15"/>
<ellipse cx="267.6" cy="498" rx="1.6" ry="3.2" fill="#666" stroke="#222" stroke-width="0.9" transform="rotate(0 267.6 498)"/>
<path d="M 275,494 L 279,493.6 M 274,501 L 279,502" fill="none" stroke="#222" stroke-width="1.03"/>
<path d="M 315.6,488 Q 320,499 340,508 M 301,490 Q 304,508 320,515 L 340,521" fill="none" stroke="#222" stroke-width="1.38"/>
<path d="M 312,496 Q 307,502 308,510 M 318,499 Q 313,505 314.4,513 M 324,502.4 Q 319.6,508 321,515.6" fill="none" stroke="#222" stroke-width="1.03"/>
<path d="M 275,494.4 L 303,497.6 M 274.4,501.2 L 304.4,505.6" fill="none" stroke="#222" stroke-width="1.32"/>
<path d="M 279.2,510.4 L 280,518 L 300,512 M 300,512 L 301,518" fill="none" stroke="#222" stroke-width="1.03"/>
<path d="M 297.6,484.4 L 300,475.6 L 309,469.2 L 315.6,472.8 L 318.4,483.6 L 312.4,490.4 L 309,486 L 308,479 L 304,482.4 L 303,490 Z" fill="#fff" stroke="#222" stroke-width="1.26"/>
<circle cx="301" cy="487" r="1.2" fill="none" stroke="#222" stroke-width="0.8"/>
<path d="M 309,469.2 L 308,479 M 300,475.6 L 304,482.4" fill="none" stroke="#222" stroke-width="1.03"/>
<path d="M 303.2,521.4 L 304.6,513.4 Q 309.4,507.6 312.6,514.6 L 311.8,522.6" fill="#fff" stroke="#222" stroke-width="1.44"/>
<path d="M 301.8,522.2 L 303.2,514.2 Q 308.2,508.4 311.2,515.4 L 310.4,523.4" fill="#fff" stroke="#222" stroke-width="1.44"/>
<circle cx="307.2" cy="515.3" r="1.6" fill="none" stroke="#222" stroke-width="1.2"/>
<path d="M 318.6,520.6 L 320,512.6 Q 324.8,506.8 328,513.8 L 327.2,521.8" fill="#fff" stroke="#222" stroke-width="1.44"/>
<path d="M 317.2,521.4 L 318.6,513.4 Q 323.6,507.6 326.6,514.6 L 325.8,522.6" fill="#fff" stroke="#222" stroke-width="1.44"/>
<circle cx="322.6" cy="514.5" r="1.6" fill="none" stroke="#222" stroke-width="1.2"/>
<path d="M 329.8,517.4 L 331.2,509.4 Q 336,503.6 339.2,510.6 L 338.4,518.6" fill="#fff" stroke="#222" stroke-width="1.44"/>
<path d="M 328.4,518.2 L 329.8,510.2 Q 334.8,504.4 337.8,511.4 L 337,519.4" fill="#fff" stroke="#222" stroke-width="1.44"/>
<circle cx="333.8" cy="511.3" r="1.6" fill="none" stroke="#222" stroke-width="1.2"/>
<path d="M 340,508 Q 347,506 352,509 Q 354,514 350,518 L 340,521" fill="none" stroke="#222" stroke-width="1.26"/>
<path d="M 344,507.6 Q 347,512 344.4,519.6" fill="none" stroke="#222" stroke-width="1.03"/>
<path d="M 319,481 L 358,499 M 320,483.6 L 357,501 M 322,490 L 352,503" fill="none" stroke="#222" stroke-width="1.49"/>
<path d="M 336,482.4 L 344,481.6 L 344.4,486 L 338,487" fill="none" stroke="#222" stroke-width="1.03"/>
<path d="M 320,450 L 328,446 L 338,449 L 339,458 L 332,463 L 324,460 Z M 328,446 L 329,454 L 339,458" fill="none" stroke="#222" stroke-width="1.15"/>
<ellipse cx="334" cy="455" rx="1.6" ry="2.4" fill="none" stroke="#222" stroke-width="0.9" transform="rotate(0 334 455)"/>
<path d="M 286,436 L 320,444 M 288,439 L 318,446.4 M 286,436 L 285,446 M 340,450 L 360,454 M 340,442 Q 352,440 360,448 M 338,466 L 360,470 M 344,476 L 360,473" fill="none" stroke="#222" stroke-width="1.15"/>
<path d="M 312,460 L 320,458 L 322,466 L 315,468 Z" fill="none" stroke="#222" stroke-width="1.03"/>
<path d="M 200,488 L 214,498.4 M 200,518 L 207,518.4 M 210,548 L 248,534.4" fill="none" stroke="#222" stroke-width="0.57"/>
<text transform="translate(193.8 487.5) scale(0.76 1)" font-size="12.8" text-anchor="middle" font-weight="normal" fill="#111" stroke="#111" stroke-width="0.45" >4</text>
<path d="M 198,487 L 215.5,497" fill="none" stroke="#222" stroke-width="0.8"/>
<path d="M 159.5,528.8 L 206,519 M 159.5,528.8 L 166.7,532.8 M 209,546.8 L 230,541.8" fill="none" stroke="#222" stroke-width="0.63" stroke-dasharray="10 3 2 3"/>
<path d="M 137.8,555 L 140,551.2 L 143.8,547.5 L 148.2,546.8 L 150.5,549.8 L 151.2,553.5 Q 158,553.5 162.5,547.5 Q 165.5,542.2 166.2,536.2 L 167,533.2 L 170,532.5 L 176,534.8 L 178.2,537.8 L 197.8,542.2 L 203.8,542.2 L 207.5,544.8 L 207.2,548.2 L 203.8,549.3 L 200,547.5 L 194,552 L 191,556.5 L 185,560.2 L 180.5,561.8 L 161.8,568.5 L 158,567.8 L 139.2,558.8 Z" fill="#fff" stroke="#222" stroke-width="1.26"/>
<path d="M 151.2,553.5 L 155,555 L 161.8,561 L 180.5,555 L 185,560.2 M 161.8,561 L 161.8,568.5 M 155,555 Q 162.5,553.5 167.8,544.5 L 170,538.5 L 176,534.8 M 170,538.5 L 178.2,542.2 L 188,545.2 L 197.8,542.2 M 178.2,542.2 L 173,551.2 L 180.5,555 M 173,551.2 L 164,555 L 161.8,561" fill="none" stroke="#222" stroke-width="1.09"/>
<ellipse cx="179.3" cy="546.8" rx="2.9" ry="1.8" fill="none" stroke="#222" stroke-width="1.0" transform="rotate(-20 179.3 546.8)"/>
<circle cx="170.8" cy="542.2" r="0.6" fill="none" stroke="#222" stroke-width="0.8"/>
<circle cx="144.8" cy="552.3" r="0.8" fill="none" stroke="#222" stroke-width="0.9"/>
<circle cx="164.8" cy="558.9" r="0.6" fill="none" stroke="#222" stroke-width="0.8"/>
<circle cx="171.8" cy="558.9" r="0.6" fill="none" stroke="#222" stroke-width="0.8"/>
<circle cx="191.8" cy="549.9" r="0.6" fill="none" stroke="#222" stroke-width="0.8"/>
<path d="M 141.8,556.8 L 155,561.9 M 143.8,555.8 L 153.5,559.5" fill="none" stroke="#222" stroke-width="2.3"/>
<path d="M 166.7,532.2 L 169.2,530.7 L 170.3,532.5" fill="none" stroke="#222" stroke-width="1.49"/>
<path d="M 203.8,542.2 L 206,545.7 L 203.8,549.3 M 206,545.7 L 207.5,546.8" fill="none" stroke="#222" stroke-width="1.38"/>
<path d="M 146,537.8 Q 146.3,534 150.2,533.7 L 153.2,534.9 Q 155,537 154.1,540.3 L 150.8,542.1 Q 146.8,542.2 146,537.8 Z" fill="#fff" stroke="#222" stroke-width="1.26"/>
<ellipse cx="148.4" cy="538.5" rx="2.1" ry="3.6" fill="#bbb" stroke="#222" stroke-width="1.0" transform="rotate(-12 148.4 538.5)"/>
<path d="M 154.4,540 L 161.8,543" fill="none" stroke="#222" stroke-width="0.69"/>
<text transform="translate(139.2 526.8) scale(0.76 1)" font-size="12.8" text-anchor="middle" font-weight="normal" fill="#111" stroke="#111" stroke-width="0.45" >3</text>
<path d="M 140.8,528.8 L 146.8,535.2" fill="none" stroke="#222" stroke-width="0.8"/>
<text transform="translate(130.2 535.2) scale(0.76 1)" font-size="12.8" text-anchor="middle" font-weight="normal" fill="#111" stroke="#111" stroke-width="0.45" >2</text>
<path d="M 132.2,537 L 140.8,549.3" fill="none" stroke="#222" stroke-width="0.8"/>
<path d="M 133.7,569.1 L 136.7,566.1 L 138.2,567.6 L 135.2,570.6 Z" fill="#fff" stroke="#222" stroke-width="1.03"/>
<path d="M 129.5,570.9 L 131.6,568.5 L 134.6,569.1 L 135.8,571.8 L 133.7,574.2 L 130.7,573.9 Z" fill="#555" stroke="#222" stroke-width="1.15"/>
<path d="M 147.9,573.6 L 150.9,570.6 L 152.4,572.1 L 149.4,575.1 Z" fill="#fff" stroke="#222" stroke-width="1.03"/>
<path d="M 143.8,575.4 L 145.8,573 L 148.8,573.6 L 150.1,576.3 L 147.9,578.7 L 144.9,578.4 Z" fill="#555" stroke="#222" stroke-width="1.15"/>
<path d="M 132.5,588 L 132.8,574.8" fill="none" stroke="#222" stroke-width="0.8"/>
<path d="M 132.5,588 L 145.2,579.3" fill="none" stroke="#222" stroke-width="0.8"/>
<text transform="translate(129.5 600) scale(0.76 1)" font-size="12.8" text-anchor="middle" font-weight="normal" fill="#111" stroke="#111" stroke-width="0.45" >1</text>
<path d="M 319,483 L 369,499 M 320,486 L 366,501.2 M 322,489 L 350,498" fill="none" stroke="#222" stroke-width="1.49"/>
<path d="M 336,481 L 343,480 L 344.4,484 L 338,485.6 Z" fill="#fff" stroke="#222" stroke-width="1.03"/>
<path d="M 300,451 L 326,445 M 300,460 L 328,454" fill="none" stroke="#222" stroke-width="1.26"/>
<path d="M 320,448 L 321,441 Q 324,437 330,438 L 335,440 L 339,446 L 338,458 L 332,466 L 324,464 Z" fill="#fff" stroke="#222" stroke-width="1.26"/>
<path d="M 330,438 L 332,448 L 339,446 M 332,448 L 332,466 M 324,450 L 330,452" fill="none" stroke="#222" stroke-width="1.03"/>
<circle cx="335" cy="454" r="1.4" fill="none" stroke="#222" stroke-width="0.9"/>
<circle cx="323" cy="458" r="1" fill="none" stroke="#222" stroke-width="0.8"/>
<ellipse cx="330" cy="414" rx="1.6" ry="2.4" fill="none" stroke="#222" stroke-width="0.9" transform="rotate(0 330 414)"/>
<path d="M 326,468 L 330,476 L 338,474 L 340,466" fill="none" stroke="#222" stroke-width="1.03"/>
<path d="M 341,436.4 Q 358,433 366.4,446.4 L 400,486.4 L 391,496.4 L 357,452.4 Q 352,445.6 342.4,446.4 Z" fill="#fff" stroke="#222" stroke-width="1.38"/>
<path d="M 360,438 Q 357,443 352.4,446.4 M 363.6,442 Q 360,447 356,450.4" fill="none" stroke="#222" stroke-width="1.03"/>
<path d="M 369,448.4 L 404,438 L 418.4,430 M 374.4,458 L 408,446.4 L 428,437.2" fill="none" stroke="#222" stroke-width="1.26"/>
<path d="M 370,446.4 L 377,443.6 L 388,445.6 L 388.4,449.6 L 384,451 M 377,443.6 L 378,447.6 L 384,451" fill="none" stroke="#222" stroke-width="1.03"/>
<path d="M 381,445 L 383.6,444.4 L 384,448 L 381.6,448.4 Z" fill="#333" stroke="#222" stroke-width="0.57"/>
<path d="M 348,508 L 394,499.2 L 424.4,491.2 M 300,532 L 350,518.4 L 428,500" fill="none" stroke="#222" stroke-width="1.38"/>
<ellipse cx="347.6" cy="512.4" rx="3.6" ry="6" fill="none" stroke="#222" stroke-width="1.0" transform="rotate(-12 347.6 512.4)"/>
<path d="M 347.6,506.4 L 312,514 M 300,520 L 308,518.4" fill="none" stroke="#222" stroke-width="1.26"/>
<path d="M 312,530 L 322,527.2" fill="none" stroke="#222" stroke-width="2.07"/>
<path d="M 444,418 L 468,411 L 500,402 M 446,422.4 L 470,415.6 L 498,409 M 500,402 L 500,410" fill="none" stroke="#222" stroke-width="1.26"/>
<path d="M 473,412.6 L 473.2,404.6 Q 477.4,398 481.4,404.6 L 481.6,412.6" fill="#fff" stroke="#222" stroke-width="1.44"/>
<path d="M 471.6,413.4 L 472,405.4 Q 476,398.8 480,405.4 L 480.4,413.4" fill="#fff" stroke="#222" stroke-width="1.44"/>
<circle cx="476" cy="405.9" r="1.6" fill="none" stroke="#222" stroke-width="1.2"/>
<path d="M 485,407.2 L 485.2,399.2 Q 489.4,392.6 493.4,399.2 L 493.6,407.2" fill="#fff" stroke="#222" stroke-width="1.44"/>
<path d="M 483.6,408 L 484,400 Q 488,393.6 492,400 L 492.4,408" fill="#fff" stroke="#222" stroke-width="1.44"/>
<circle cx="488" cy="400.5" r="1.6" fill="none" stroke="#222" stroke-width="1.2"/>
<path d="M 446,422.4 L 448,430 L 458,428 L 466,420 M 452,424 L 454,430 L 462,432 L 465,428 M 466,416 L 472,420 L 470,426 M 466,420 L 467,425" fill="none" stroke="#222" stroke-width="1.15"/>
<path d="M 454,430 L 460,430 L 460,433.6 L 454,433.6 Z" fill="#333" stroke="#222" stroke-width="0.57"/>
<path d="M 440,426 L 478,464 M 448,430 L 483,466" fill="none" stroke="#222" stroke-width="1.26"/>
<path d="M 440,464 L 478,475 M 440,470 L 470,479" fill="none" stroke="#222" stroke-width="1.26"/>
<circle cx="468" cy="462.4" r="0.6" fill="#333" stroke="#222" stroke-width="0.5"/>
<circle cx="470.4" cy="463.2" r="0.6" fill="#333" stroke="#222" stroke-width="0.5"/>
<path d="M 476,449 L 480,446 L 483,450 L 487,447 L 490,450 M 488,439 L 492.4,437 L 493.6,443 M 491,446 L 495,446 L 495,449 L 491,449 Z" fill="none" stroke="#222" stroke-width="1.15"/>
<path d="M 500,410 L 544,390 L 552,386.4 M 500,416 L 528,404 M 543,389.6 L 544,396.4 L 578,410 M 552,386.4 L 580,398 M 506,422 L 534,410 L 544,402" fill="none" stroke="#222" stroke-width="1.26"/>
<path d="M 520.4,408.4 L 521.4,400.2 Q 526.2,393.8 529.8,400.8 L 529.2,409.2" fill="#fff" stroke="#222" stroke-width="1.44"/>
<path d="M 519,409.4 L 520,401 Q 524.8,394.6 528.4,401.6 L 527.8,410" fill="#fff" stroke="#222" stroke-width="1.44"/>
<circle cx="524.1" cy="401.9" r="1.7" fill="none" stroke="#222" stroke-width="1.2"/>
<path d="M 538,422 L 539.6,411 Q 541,405 545,406 Q 548,408 547,413 L 544,424" fill="#fff" stroke="#222" stroke-width="1.26"/>
<path d="M 542.4,410 L 541.6,418" fill="none" stroke="#222" stroke-width="2.3"/>
<path d="M 510.4,388 L 491.6,449.2 L 488,458 L 500,460 L 500.4,450.4 L 518.6,387.2 Z" fill="#fff" stroke="#222" stroke-width="1.38"/>
<path d="M 510,390 Q 514.4,391.6 518.6,388.4 M 516,370 L 510.4,388 M 524,370 L 518.6,387.2" fill="none" stroke="#222" stroke-width="1.26"/>
<path d="M 491.6,449.2 Q 496,451.6 500.4,450.4" fill="none" stroke="#222" stroke-width="1.03"/>
<path d="M 513,413 L 516,412.4 L 516.4,417 L 513.2,417.6 Z" fill="#fff" stroke="#222" stroke-width="1.03"/>
<path d="M 478,464 Q 483,466 485,471 M 483,470 Q 492,471 500,464 L 508,454 L 534,437 M 476,475 Q 488,476 498,470 L 509,462 L 520,454" fill="none" stroke="#222" stroke-width="1.38"/>
<path d="M 485,471 Q 488,467 492.4,465.6 M 488,473 Q 491,469 496,467.6" fill="none" stroke="#222" stroke-width="1.03"/>
<path d="M 520,454 L 536,442 L 600,413 M 534,437 L 552,430 L 600,406" fill="none" stroke="#222" stroke-width="1.38"/>
<path d="M 509,440 L 516,436 L 528,439 L 528.4,444 L 520,447 M 516,436 L 517,441 L 528.4,444" fill="none" stroke="#222" stroke-width="1.15"/>
<path d="M 518,438 L 520,437.6 L 520.4,440.4 L 518.4,440.8 Z" fill="#333" stroke="#222" stroke-width="0.57"/>
<path d="M 536.4,438 L 538.6,429.6 Q 544.2,423.6 547,431.4 L 545.6,440" fill="#fff" stroke="#222" stroke-width="1.44"/>
<path d="M 535,438.8 L 537.2,430.4 Q 542.8,424.4 545.6,432.2 L 544,440.8" fill="#fff" stroke="#222" stroke-width="1.44"/>
<circle cx="541.2" cy="431.9" r="1.7" fill="none" stroke="#222" stroke-width="1.2"/>
<path d="M 548.4,433 L 550.6,424.6 Q 556.2,418.6 559,426.4 L 557.6,435" fill="#fff" stroke="#222" stroke-width="1.44"/>
<path d="M 547,433.8 L 549.2,425.4 Q 554.8,419.4 557.6,427.2 L 556,435.8" fill="#fff" stroke="#222" stroke-width="1.44"/>
<circle cx="553.2" cy="426.9" r="1.7" fill="none" stroke="#222" stroke-width="1.2"/>
<path d="M 579.8,420 L 582,411.6 Q 587.6,405.6 590.4,413.4 L 589,422" fill="#fff" stroke="#222" stroke-width="1.44"/>
<path d="M 578.4,420.8 L 580.6,412.4 Q 586.2,406.4 589,414.2 L 587.4,422.8" fill="#fff" stroke="#222" stroke-width="1.44"/>
<circle cx="584.6" cy="413.9" r="1.7" fill="none" stroke="#222" stroke-width="1.2"/>
<path d="M 589.4,415 L 591.6,406.6 Q 597.2,400.6 600,408.4 L 598.6,417" fill="#fff" stroke="#222" stroke-width="1.44"/>
<path d="M 588,415.8 L 590.2,407.4 Q 595.8,401.4 598.6,409.2 L 597,417.8" fill="#fff" stroke="#222" stroke-width="1.44"/>
<circle cx="594.2" cy="408.9" r="1.7" fill="none" stroke="#222" stroke-width="1.2"/>
<path d="M 558,430 L 580,420 M 560,434 L 580,425" fill="none" stroke="#222" stroke-width="1.15"/>
<path d="M 535.4,386.8 L 535.6,378.4 Q 539.8,371.8 544,378.4 L 544.2,386.8" fill="#fff" stroke="#222" stroke-width="1.44"/>
<path d="M 534,387.8 L 534.2,379.4 Q 538.4,372.6 542.6,379.4 L 542.8,387.8" fill="#fff" stroke="#222" stroke-width="1.44"/>
<circle cx="538.4" cy="379.9" r="1.7" fill="none" stroke="#222" stroke-width="1.2"/>
<path d="M 546.6,383.8 L 546.8,375.4 Q 551,368.8 555.2,375.4 L 555.4,383.8" fill="#fff" stroke="#222" stroke-width="1.44"/>
<path d="M 545.2,384.8 L 545.4,376.4 Q 549.6,369.6 553.8,376.4 L 554,384.8" fill="#fff" stroke="#222" stroke-width="1.44"/>
<circle cx="549.6" cy="376.9" r="1.7" fill="none" stroke="#222" stroke-width="1.2"/>
<path d="M 552,384 L 553,396 M 549,389 L 550,396" fill="none" stroke="#222" stroke-width="1.15"/>
<path d="M 568,390 L 570,384 L 578,382 L 584,386 L 584.4,396 L 578,400 L 570,398 Z" fill="#fff" stroke="#222" stroke-width="1.15"/>
<ellipse cx="577.6" cy="391" rx="1.6" ry="2.4" fill="none" stroke="#222" stroke-width="0.9" transform="rotate(0 577.6 391)"/>
<path d="M 584,386 L 600,382 M 584.4,396 L 600,392.4 M 588,378 L 600,376 M 580,404 L 600,400" fill="none" stroke="#222" stroke-width="1.15"/>
<path d="M 526,370 L 534,388 L 531,390 M 534,370 L 540,374" fill="none" stroke="#222" stroke-width="1.15"/>
<path d="M 440,396 L 446,417 M 448,392 L 454,414.4 M 440,378 L 448,392" fill="none" stroke="#222" stroke-width="1.26"/>
<circle cx="450" cy="400" r="0.6" fill="none" stroke="#222" stroke-width="0.6"/>
<circle cx="444" cy="386" r="0.6" fill="none" stroke="#222" stroke-width="0.6"/>
<ellipse cx="503.6" cy="469.2" rx="3" ry="2.6" fill="#fff" stroke="#222" stroke-width="1.7" transform="rotate(0 503.6 469.2)"/>
<ellipse cx="503.6" cy="469.2" rx="1.4" ry="1.2" fill="#999" stroke="#222" stroke-width="1.0" transform="rotate(0 503.6 469.2)"/>
<text transform="translate(520.6 467) scale(0.76 1)" font-size="12.8" text-anchor="middle" font-weight="normal" fill="#111" stroke="#111" stroke-width="0.45" >6</text>
<path d="M 508,468 L 516,466" fill="none" stroke="#222" stroke-width="0.8"/>
<path d="M 500,465.6 L 492.4,458" fill="none" stroke="#222" stroke-width="0.57"/>
<path d="M 403,449 L 480,473 M 405,447.6 L 468,467.6 M 405.6,450.4 L 464,469.2" fill="none" stroke="#222" stroke-width="1.38"/>
<ellipse cx="425" cy="447.6" rx="3.6" ry="2.4" fill="none" stroke="#222" stroke-width="0.9" transform="rotate(20 425 447.6)"/>
<ellipse cx="450.4" cy="455.2" rx="3.6" ry="2.4" fill="none" stroke="#222" stroke-width="0.9" transform="rotate(20 450.4 455.2)"/>
<ellipse cx="458.4" cy="458.8" rx="3.6" ry="2.4" fill="none" stroke="#222" stroke-width="0.9" transform="rotate(20 458.4 458.8)"/>
<circle cx="434.4" cy="450.4" r="0.6" fill="#333" stroke="#222" stroke-width="0.5"/>
<circle cx="437" cy="451.2" r="0.6" fill="#333" stroke="#222" stroke-width="0.5"/>
<circle cx="469" cy="463.6" r="0.6" fill="#333" stroke="#222" stroke-width="0.5"/>
<circle cx="471.6" cy="464.4" r="0.6" fill="#333" stroke="#222" stroke-width="0.5"/>
<path d="M 372,448 L 384,445 L 385,449 L 374,452 Z M 403,449 L 405,444" fill="none" stroke="#222" stroke-width="1.03"/>
<path d="M 395.2,456 Q 391.6,458.4 393.2,461.2 L 437,477.2 L 439.2,472 Z" fill="#fff" stroke="#222" stroke-width="1.26"/>
<path d="M 437,471.6 L 441.6,470 L 445.6,473.2 L 445.2,478.4 L 440.8,480.8 L 436.8,478.4 Z" fill="#fff" stroke="#222" stroke-width="1.26"/>
<ellipse cx="441.2" cy="475.6" rx="3" ry="3.8" fill="none" stroke="#222" stroke-width="0.9" transform="rotate(0 441.2 475.6)"/>
<text transform="translate(410 482) scale(0.76 1)" font-size="12.8" text-anchor="middle" font-weight="normal" fill="#111" stroke="#111" stroke-width="0.45" >12</text>
<path d="M 412.4,474.4 L 412.4,468.4" fill="none" stroke="#222" stroke-width="0.8"/>
<path d="M 360,502.2 L 392,497.6 M 360,510 L 427.4,500 M 360,519 L 390,514.4" fill="none" stroke="#222" stroke-width="1.26"/>
<path d="M 391,500.4 L 398,483.2 L 403,479.2 L 424.4,490 L 426.4,494.4 L 392,501.2 Z" fill="#fff" stroke="#222" stroke-width="1.26"/>
<path d="M 398,483.2 Q 410,489 424.4,490 M 399.2,486.4 Q 410,492.4 425,492.4" fill="none" stroke="#222" stroke-width="1.49"/>
<circle cx="396.4" cy="496.4" r="0.8" fill="none" stroke="#222" stroke-width="0.7"/>
<path d="M 398,483.2 L 400,492 L 396,500" fill="none" stroke="#222" stroke-width="0.92"/>
<path d="M 426,492.4 L 436,489.2 L 448,500 L 448,504 L 442,506.4 L 429,498.4 Z" fill="#fff" stroke="#222" stroke-width="1.26"/>
<path d="M 436,489.2 L 437,493.6 L 448,504 M 437,493.6 L 429,498.4 M 433,492.4 L 444,502.4" fill="none" stroke="#222" stroke-width="1.03"/>
<path d="M 466,478 L 476,474.8 L 488,485.6 L 488,489.6 L 482,492 L 469,484 Z" fill="#fff" stroke="#222" stroke-width="1.26"/>
<path d="M 476,474.8 L 477,479.2 L 488,489.6 M 477,479.2 L 469,484 M 473,478 L 484,488" fill="none" stroke="#222" stroke-width="1.03"/>
<path d="M 449,502.4 L 504,524 M 489.6,487.6 L 520,498.4 M 434,507 L 434,517 M 443.6,507 L 443.6,521 M 474.4,483 L 474.4,489 M 483,490 L 483,494" fill="none" stroke="#222" stroke-width="0.57"/>
<g transform="translate(433.8 528) rotate(0) scale(0.2)" fill="#fff" stroke="#222" stroke-width="3.2"><rect x="-5" y="-44" width="10" height="34"/><ellipse cx="0" cy="-12" rx="13" ry="4"/><path d="M-11,-11 L-11,0 L0,3 L11,0 L11,-11 Z"/><path d="M-3.6666666666666665,-9 L-3.6666666666666665,2 M3.6666666666666665,-9 L3.6666666666666665,2" fill="none"/></g>
<g transform="translate(443 531.2) rotate(0) scale(0.2)" fill="#fff" stroke="#222" stroke-width="3.2"><rect x="-5" y="-44" width="10" height="34"/><ellipse cx="0" cy="-12" rx="13" ry="4"/><path d="M-11,-11 L-11,0 L0,3 L11,0 L11,-11 Z"/><path d="M-3.6666666666666665,-9 L-3.6666666666666665,2 M3.6666666666666665,-9 L3.6666666666666665,2" fill="none"/></g>
<path d="M 433.8,505 L 433.8,517 M 442.5,506.2 L 442.5,520" fill="none" stroke="#222" stroke-width="0.57"/>
<text transform="translate(458.8 500.5) scale(0.76 1)" font-size="12.8" text-anchor="middle" font-weight="normal" fill="#111" stroke="#111" stroke-width="0.45" >14</text>
<path d="M 464.5,497 L 470,497" fill="none" stroke="#222" stroke-width="0.8"/>
<text transform="translate(436.2 555.8) scale(0.76 1)" font-size="12.8" text-anchor="middle" font-weight="normal" fill="#111" stroke="#111" stroke-width="0.45" >14</text>
<path d="M 436.2,542.5 L 433.8,530" fill="none" stroke="#222" stroke-width="0.8"/>
<path d="M 437,542.5 L 442.5,533" fill="none" stroke="#222" stroke-width="0.8"/>
<path d="M 348,527 L 351,525.5 L 354,527.5 L 353.5,531.5 L 350.5,533 L 348,531 Z" fill="#666" stroke="#222" stroke-width="1.03"/>
<path d="M 344.5,528 L 348,528 L 348,530.5 L 344.5,530 Z" fill="none" stroke="#222" stroke-width="0.8"/>
<text transform="translate(367.5 535.5) scale(0.76 1)" font-size="12.8" text-anchor="middle" font-weight="normal" fill="#111" stroke="#111" stroke-width="0.45" >5</text>
<path d="M 355,530 L 362.5,532" fill="none" stroke="#222" stroke-width="0.8"/>
<path d="M 333.8,522.5 L 345,528" fill="none" stroke="#222" stroke-width="0.57"/>
<path d="M 343.8,585 Q 345.5,581.2 350,583 L 375,578.8 L 378.8,576.2 L 405,563.8 L 409.5,561.2 L 412.5,565 L 411.2,575 L 405,587.5 L 416.2,590 L 420,580 L 423.8,579.5 L 425,582.5 L 430,590 L 437.5,591.2 L 440,596.2 L 435,601.2 L 420,607.5 L 387.5,603.8 L 385,607.5 L 378.8,606.2 L 376.2,600 L 352.5,593.8 Q 344.5,592.5 343.8,585 Z" fill="#fff" stroke="#222" stroke-width="1.15"/>
<path d="M 350,583 L 348,590 L 378.8,597.5 L 387.5,593.8 L 416.2,590 M 378.8,597.5 L 376.2,600 M 378.8,576.2 L 380,585 L 405,587.5 M 380,585 L 375,578.8 M 387.5,593.8 L 387.5,603.8 M 416.2,590 L 415,606.2" fill="none" stroke="#222" stroke-width="1.03"/>
<circle cx="345.5" cy="588" r="1.8" fill="none" stroke="#222" stroke-width="0.9"/>
<circle cx="408.8" cy="565.5" r="1" fill="none" stroke="#222" stroke-width="0.9"/>
<circle cx="400" cy="576.2" r="1" fill="none" stroke="#222" stroke-width="0.9"/>
<circle cx="390" cy="580" r="1" fill="none" stroke="#222" stroke-width="0.9"/>
<circle cx="402.5" cy="586.2" r="1" fill="none" stroke="#222" stroke-width="0.9"/>
<circle cx="381.2" cy="601.2" r="1" fill="none" stroke="#222" stroke-width="0.9"/>
<circle cx="383" cy="605" r="1" fill="none" stroke="#222" stroke-width="0.9"/>
<circle cx="422" cy="582.5" r="1" fill="none" stroke="#222" stroke-width="0.9"/>
<circle cx="428.8" cy="592.5" r="1" fill="none" stroke="#222" stroke-width="0.9"/>
<circle cx="438" cy="595.5" r="1.2" fill="none" stroke="#222" stroke-width="0.9"/>
<path d="M 353,595 L 355,597.5 L 375,602.5" fill="none" stroke="#222" stroke-width="0.92"/>
<text transform="translate(362.5 621.2) scale(0.76 1)" font-size="12.8" text-anchor="middle" font-weight="normal" fill="#111" stroke="#111" stroke-width="0.45" >10</text>
<path d="M 363.8,610 L 367.5,601.2" fill="none" stroke="#222" stroke-width="0.8"/>
<path d="M 373.2,553.2 L 377.8,554.5 L 377.8,557 L 373.2,556.2 Z" fill="#fff" stroke="#222" stroke-width="1.15"/>
<ellipse cx="377.8" cy="555.8" rx="0.8" ry="1.2" fill="#444" stroke="#222" stroke-width="0.6" transform="rotate(0 377.8 555.8)"/>
<ellipse cx="371.2" cy="554.5" rx="3" ry="3.5" fill="#fff" stroke="#222" stroke-width="1.7" transform="rotate(0 371.2 554.5)"/>
<ellipse cx="372" cy="554.8" rx="1.5" ry="2" fill="#fff" stroke="#222" stroke-width="1.0" transform="rotate(0 372 554.8)"/>
<path d="M 395.8,556.8 L 400.2,558 L 400.2,560.5 L 395.8,559.8 Z" fill="#fff" stroke="#222" stroke-width="1.15"/>
<ellipse cx="400.2" cy="559.2" rx="0.8" ry="1.2" fill="#444" stroke="#222" stroke-width="0.6" transform="rotate(0 400.2 559.2)"/>
<ellipse cx="393.8" cy="558" rx="3" ry="3.5" fill="#fff" stroke="#222" stroke-width="1.7" transform="rotate(0 393.8 558)"/>
<ellipse cx="394.5" cy="558.2" rx="1.5" ry="2" fill="#fff" stroke="#222" stroke-width="1.0" transform="rotate(0 394.5 558.2)"/>
<text transform="translate(400 538) scale(0.76 1)" font-size="12.8" text-anchor="middle" font-weight="normal" fill="#111" stroke="#111" stroke-width="0.45" >13</text>
<path d="M 399.5,541.2 L 395.5,553.8" fill="none" stroke="#222" stroke-width="0.8"/>
<text transform="translate(353.8 553.5) scale(0.76 1)" font-size="12.8" text-anchor="middle" font-weight="normal" fill="#111" stroke="#111" stroke-width="0.45" >13</text>
<path d="M 359.5,551.2 L 367.5,553.8" fill="none" stroke="#222" stroke-width="0.8"/>
<path d="M 377.5,556.2 L 385,571.2 L 397.5,575 M 399.5,560.5 L 405,563.8 M 463.8,581.2 L 452.5,576.2 L 436.2,572.5 L 430,590 M 472.5,595 L 450,587.5 L 440,596.2" fill="none" stroke="#222" stroke-width="0.57"/>
<ellipse cx="312.5" cy="563.8" rx="3.5" ry="4.2" fill="#fff" stroke="#222" stroke-width="1.7" transform="rotate(0 312.5 563.8)"/>
<ellipse cx="313.5" cy="564.2" rx="2" ry="2.5" fill="#999" stroke="#222" stroke-width="1.0" transform="rotate(0 313.5 564.2)"/>
<ellipse cx="369.2" cy="570.5" rx="3.5" ry="4.2" fill="#fff" stroke="#222" stroke-width="1.7" transform="rotate(0 369.2 570.5)"/>
<ellipse cx="370.2" cy="571" rx="2" ry="2.5" fill="#999" stroke="#222" stroke-width="1.0" transform="rotate(0 370.2 571)"/>
<text transform="translate(295.5 564.5) scale(0.76 1)" font-size="12.8" text-anchor="middle" font-weight="normal" fill="#111" stroke="#111" stroke-width="0.45" >9</text>
<path d="M 299.5,562.5 L 308,563" fill="none" stroke="#222" stroke-width="0.8"/>
<text transform="translate(352.5 572) scale(0.76 1)" font-size="12.8" text-anchor="middle" font-weight="normal" fill="#111" stroke="#111" stroke-width="0.45" >9</text>
<path d="M 356.5,569.5 L 365,570" fill="none" stroke="#222" stroke-width="0.8"/>
<path d="M 317.5,566.2 L 325,567.5 L 321.2,580 M 373.8,573.8 L 378.8,576.2" fill="none" stroke="#222" stroke-width="0.57"/>
<path d="M 306,573 L 309,572 L 310,575.5 L 307,576.5 Z" fill="#666" stroke="#222" stroke-width="1.03"/>
<path d="M 309.5,573.5 L 313.5,574.5 L 313,576.5 L 309.5,575.5" fill="none" stroke="#222" stroke-width="0.8"/>
<text transform="translate(303.8 593.8) scale(0.76 1)" font-size="12.8" text-anchor="middle" font-weight="normal" fill="#111" stroke="#111" stroke-width="0.45" >8</text>
<path d="M 305,585 L 307.5,577.5" fill="none" stroke="#222" stroke-width="0.8"/>
<path d="M 450,635.5 L 453,635 L 454,638.5 L 451,639.5 Z" fill="#666" stroke="#222" stroke-width="1.03"/>
<path d="M 447,635 L 450,636 L 450,638 L 447,637" fill="none" stroke="#222" stroke-width="0.8"/>
<text transform="translate(446.2 662.5) scale(0.76 1)" font-size="12.8" text-anchor="middle" font-weight="normal" fill="#111" stroke="#111" stroke-width="0.45" >8</text>
<path d="M 447,652.5 L 451.2,640" fill="none" stroke="#222" stroke-width="0.8"/>
<path d="M 313.5,575 L 342.5,586.2 M 447,635.5 L 420,625" fill="none" stroke="#222" stroke-width="0.57"/>
<path d="M 312,584.5 L 322.5,582 L 337,593.8 L 333,600.5 L 317.5,596.2 L 311.2,590 Z" fill="#fff" stroke="#222" stroke-width="1.15"/>
<path d="M 312,584.5 L 326.2,591.2 L 337,593.8 M 326.2,591.2 L 325,598 M 317.5,586.2 L 330,597" fill="none" stroke="#222" stroke-width="1.03"/>
<path d="M 325,580 L 330,576.2 L 333.8,578.8 L 333,586.2 Z" fill="#fff" stroke="#222" stroke-width="1.03"/>
<circle cx="330.8" cy="580" r="1.2" fill="none" stroke="#222" stroke-width="0.8"/>
<path d="M 320,597 L 320,602 L 323,602.5 L 323,598" fill="none" stroke="#222" stroke-width="0.92"/>
<path d="M 313.8,588 L 323.8,593 L 331.2,598.8" fill="none" stroke="#222" stroke-width="2.07"/>
<path d="M 402,617 L 412.5,614.5 L 427,626.2 L 423,633 L 407.5,628.8 L 401.2,622.5 Z" fill="#fff" stroke="#222" stroke-width="1.15"/>
<path d="M 402,617 L 416.2,623.8 L 427,626.2 M 416.2,623.8 L 415,630.5 M 407.5,618.8 L 420,629.5" fill="none" stroke="#222" stroke-width="1.03"/>
<path d="M 415,612.5 L 420,608.8 L 423.8,611.2 L 423,618.8 Z" fill="#fff" stroke="#222" stroke-width="1.03"/>
<circle cx="420.8" cy="612.5" r="1.2" fill="none" stroke="#222" stroke-width="0.8"/>
<path d="M 410,629.5 L 410,634.5 L 413,635 L 413,630.5" fill="none" stroke="#222" stroke-width="0.92"/>
<path d="M 403.8,620.5 L 413.8,625.5 L 421.2,631.2" fill="none" stroke="#222" stroke-width="2.07"/>
<text transform="translate(331.2 626.2) scale(0.76 1)" font-size="12.8" text-anchor="middle" font-weight="normal" fill="#111" stroke="#111" stroke-width="0.45" >7</text>
<path d="M 331.2,613.8 L 332,601.2" fill="none" stroke="#222" stroke-width="0.8"/>
<text transform="translate(419.5 658.8) scale(0.76 1)" font-size="12.8" text-anchor="middle" font-weight="normal" fill="#111" stroke="#111" stroke-width="0.45" >7</text>
<path d="M 419.5,646.2 L 420,633.8" fill="none" stroke="#222" stroke-width="0.8"/>
<path d="M 310.5,616.8 L 315.5,617.5 L 315.5,621 L 310.5,620.2 Z" fill="#555" stroke="#222" stroke-width="0.92"/>
<path d="M 400.5,650.5 L 405.5,651.2 L 405.5,654.8 L 400.5,654 Z" fill="#555" stroke="#222" stroke-width="0.92"/>
<text transform="translate(295.5 621.2) scale(0.76 1)" font-size="12.8" text-anchor="middle" font-weight="normal" fill="#111" stroke="#111" stroke-width="0.45" >6</text>
<path d="M 300,617.5 L 309.5,618.2" fill="none" stroke="#222" stroke-width="0.8"/>
<text transform="translate(387 655.5) scale(0.76 1)" font-size="12.8" text-anchor="middle" font-weight="normal" fill="#111" stroke="#111" stroke-width="0.45" >6</text>
<path d="M 391.2,652 L 399.5,652" fill="none" stroke="#222" stroke-width="0.8"/>
<path d="M 321.2,603 L 314.5,616.2 M 411.2,635.5 L 404.5,650" fill="none" stroke="#222" stroke-width="0.57"/>
<path d="M 457,601.7 Q 455.8,603.5 457.6,605.6 L 502,623 L 503.8,618.8 Z" fill="#fff" stroke="#222" stroke-width="1.15"/>
<path d="M 503.5,617 L 506.8,616.1 L 509.8,618.8 L 509.5,623 L 506.2,625.4 L 502.6,623.9 L 501.7,620 Z" fill="#fff" stroke="#222" stroke-width="1.26"/>
<ellipse cx="505.9" cy="620.9" rx="2.7" ry="3.3" fill="none" stroke="#222" stroke-width="0.9" transform="rotate(0 505.9 620.9)"/>
<path d="M 436,618.8 Q 434.8,620.6 436.6,622.7 L 476.5,638.3 L 478.3,634.4 Z" fill="#fff" stroke="#222" stroke-width="1.15"/>
<path d="M 478.3,632.6 L 481.9,631.7 L 484.9,634.4 L 484.3,638.6 L 481,641 L 477.4,639.5 L 476.5,635.6 Z" fill="#fff" stroke="#222" stroke-width="1.26"/>
<ellipse cx="480.7" cy="636.5" rx="2.7" ry="3.3" fill="none" stroke="#222" stroke-width="0.9" transform="rotate(0 480.7 636.5)"/>
<path d="M 461.8,579.5 L 465.1,580.4 L 465.1,583.1 L 461.8,582.2 Z" fill="#fff" stroke="#222" stroke-width="0.92"/>
<ellipse cx="468.4" cy="582.8" rx="3.1" ry="3.8" fill="#fff" stroke="#222" stroke-width="1.8" transform="rotate(0 468.4 582.8)"/>
<ellipse cx="468.9" cy="583.1" rx="1.8" ry="2.2" fill="#fff" stroke="#222" stroke-width="1.0" transform="rotate(0 468.9 583.1)"/>
<path d="M 474.7,593.6 L 478,594.5 L 478,597.2 L 474.7,596.3 Z" fill="#fff" stroke="#222" stroke-width="0.92"/>
<ellipse cx="481.3" cy="596.9" rx="3.1" ry="3.8" fill="#fff" stroke="#222" stroke-width="1.8" transform="rotate(0 481.3 596.9)"/>
<ellipse cx="481.8" cy="597.2" rx="1.8" ry="2.2" fill="#fff" stroke="#222" stroke-width="1.0" transform="rotate(0 481.8 597.2)"/>
<path d="M 461.5,580.7 L 436,571.7 L 432.2,584.8 L 422.5,579.5 M 474.2,595.2 L 449.5,586.2 L 446.5,596 L 439.3,593.8 M 440.8,596 L 457,602.8 M 424,615.5 L 436,619.2 M 432.2,620.8 L 428.5,629.8 L 448.8,636.5" fill="none" stroke="#222" stroke-width="0.57"/>
<text transform="translate(478 564.8) scale(0.76 1)" font-size="12.8" text-anchor="middle" font-weight="normal" fill="#111" stroke="#111" stroke-width="0.45" >13</text>
<path d="M 476.8,566.8 L 470.5,579.2" fill="none" stroke="#222" stroke-width="0.8"/>
<text transform="translate(491.8 579.2) scale(0.76 1)" font-size="12.8" text-anchor="middle" font-weight="normal" fill="#111" stroke="#111" stroke-width="0.45" >13</text>
<path d="M 490,581 L 483.2,593.3" fill="none" stroke="#222" stroke-width="0.8"/>
<text transform="translate(498.2 651.8) scale(0.76 1)" font-size="12.8" text-anchor="middle" font-weight="normal" fill="#111" stroke="#111" stroke-width="0.45" >12</text>
<path d="M 499,641.8 L 505,626" fill="none" stroke="#222" stroke-width="0.8"/>
<text transform="translate(474.7 666.2) scale(0.76 1)" font-size="12.8" text-anchor="middle" font-weight="normal" fill="#111" stroke="#111" stroke-width="0.45" >11</text>
<path d="M 475,656 L 480.2,641.8" fill="none" stroke="#222" stroke-width="0.8"/>
<path d="M 488.8,487.5 L 531.2,501.2 M 502.5,532.5 L 470,513.8 M 470,477.5 L 530,497.5" fill="none" stroke="#222" stroke-width="0.57"/>
<path d="M 560,497.5 L 582.5,490 L 584.5,492.5 L 583.8,496.5 L 565,504 M 561.5,499.5 L 583.8,492 M 563,501.5 L 584,494.5" fill="none" stroke="#222" stroke-width="1.03"/>
<path d="M 568,495.5 L 580.5,491 L 581.8,493 L 569.5,498 Z" fill="none" stroke="#222" stroke-width="1.03"/>
<path d="M 596.2,510 L 617.5,501.2 L 620,504.5 L 619.5,508 L 602.5,515 M 597.5,512 L 619,503.5 M 599,513.5 L 619.5,506" fill="none" stroke="#222" stroke-width="1.03"/>
<path d="M 604.5,507.5 L 616,502.8 L 617.2,505 L 606,510 Z" fill="none" stroke="#222" stroke-width="1.03"/>
<path d="M 515,517 L 549.5,505.5 M 516.5,519 L 551,507.5 M 520,520.5 L 554.5,509.5 M 521.2,523.5 L 542.5,516.5" fill="none" stroke="#222" stroke-width="1.03"/>
<path d="M 515.8,518 L 550,506.5" fill="none" stroke="#222" stroke-width="1.49"/>
<path d="M 554.5,527.5 L 587.5,517 M 556,529.5 L 589,519.5 M 559.5,531 L 592,521.5 M 561,534 L 580,528" fill="none" stroke="#222" stroke-width="1.03"/>
<path d="M 555,528.5 L 588,518" fill="none" stroke="#222" stroke-width="1.49"/>
<path d="M 530,515.5 L 530,518.5 M 535.5,513.5 L 535.5,516.5 M 540.5,512 L 540.5,515 M 568,526.5 L 568,529.5 M 572.5,525 L 572.5,528 M 576.5,523.5 L 576.5,526.5" fill="none" stroke="#222" stroke-width="1.49"/>
<path d="M 530.5,497.5 L 535.5,494.5 L 602,515.5 L 597.5,519 Z" fill="#fff" stroke="#222" stroke-width="1.15"/>
<path d="M 530.5,497.5 L 530.5,503 L 597.5,525 L 597.5,519" fill="#fff" stroke="#222" stroke-width="1.15"/>
<path d="M 602,515.5 L 602,522 L 597.5,525" fill="#fff" stroke="#222" stroke-width="1.15"/>
<path d="M 598.5,520 L 601,518 L 601,521.5 L 598.5,523.5 Z" fill="none" stroke="#222" stroke-width="0.69"/>
<circle cx="535.5" cy="498" r="0.6" fill="#333" stroke="#222" stroke-width="0.4"/>
<circle cx="542.5" cy="495.5" r="0.6" fill="#333" stroke="#222" stroke-width="0.4"/>
<circle cx="556.2" cy="501.5" r="0.6" fill="#333" stroke="#222" stroke-width="0.4"/>
<circle cx="580" cy="509.5" r="0.6" fill="#333" stroke="#222" stroke-width="0.4"/>
<path d="M 490,511.2 L 495,508.5 L 563,532.5 L 558,536.5 Z" fill="#fff" stroke="#222" stroke-width="1.15"/>
<path d="M 490,511.2 L 490,517.5 L 558,542.5 L 558,536.5" fill="#fff" stroke="#222" stroke-width="1.15"/>
<path d="M 563,532.5 L 563,539 L 558,542.5" fill="#fff" stroke="#222" stroke-width="1.15"/>
<path d="M 559,537.5 L 562,535 L 562,538.5 L 559,541 Z" fill="none" stroke="#222" stroke-width="0.69"/>
<circle cx="495" cy="512" r="0.6" fill="#333" stroke="#222" stroke-width="0.4"/>
<circle cx="502.5" cy="513" r="0.6" fill="#333" stroke="#222" stroke-width="0.4"/>
<circle cx="516.2" cy="518" r="0.6" fill="#333" stroke="#222" stroke-width="0.4"/>
<circle cx="541.2" cy="525.5" r="0.6" fill="#333" stroke="#222" stroke-width="0.4"/>
<path d="M 502.5,522.5 L 502.5,525.5 L 507.5,527.5 M 542.5,537 L 542.5,539.5 L 548,541.5" fill="none" stroke="#222" stroke-width="0.92"/>
<text transform="translate(573 560) scale(0.76 1)" font-size="12.8" text-anchor="middle" font-weight="normal" fill="#111" stroke="#111" stroke-width="0.45" >15</text>
<path d="M 572.5,547 L 572.5,533" fill="none" stroke="#222" stroke-width="0.8"/>
<g transform="translate(474.5 500) rotate(0) scale(0.2)" fill="#fff" stroke="#222" stroke-width="3.2"><rect x="-5" y="-44" width="10" height="34"/><ellipse cx="0" cy="-12" rx="13" ry="4"/><path d="M-11,-11 L-11,0 L0,3 L11,0 L11,-11 Z"/><path d="M-3.6666666666666665,-9 L-3.6666666666666665,2 M3.6666666666666665,-9 L3.6666666666666665,2" fill="none"/></g>
<g transform="translate(483 503) rotate(0) scale(0.2)" fill="#fff" stroke="#222" stroke-width="3.2"><rect x="-5" y="-44" width="10" height="34"/><ellipse cx="0" cy="-12" rx="13" ry="4"/><path d="M-11,-11 L-11,0 L0,3 L11,0 L11,-11 Z"/><path d="M-3.6666666666666665,-9 L-3.6666666666666665,2 M3.6666666666666665,-9 L3.6666666666666665,2" fill="none"/></g>
<text transform="translate(498 508) scale(0.76 1)" font-size="12.8" text-anchor="middle" font-weight="normal" fill="#111" stroke="#111" stroke-width="0.45" >14</text>
<path d="M 487.5,497.5 L 493,501.2" fill="none" stroke="#222" stroke-width="0.8"/>
<path d="M 570,304 L 580,300 M 570,304 L 571,312 L 596,315 L 608,308 L 608,300 M 571,312 L 580,308 L 606,310 M 580,308 L 580,300 M 586,302 L 600,303 L 600,308 L 586,307 Z" fill="none" stroke="#222" stroke-width="1.03"/>
<path d="M 612,302 L 614,300 M 616,304 L 632,302 L 633,305 L 617,307 Z" fill="none" stroke="#222" stroke-width="1.03"/>
<path d="M 520,306 L 532,350 M 528,304 L 539,348 M 544,300 L 532,340 M 553,300 L 540,340 M 540,336 L 534,352.4" fill="none" stroke="#222" stroke-width="1.15"/>
<path d="M 520,324 L 526,320 L 532,322 M 524,340 L 532,336 M 520,366 L 525,364 L 526,380 L 520,384" fill="none" stroke="#222" stroke-width="1.03"/>
<circle cx="522.4" cy="370" r="0.8" fill="none" stroke="#222" stroke-width="0.7"/>
<circle cx="522.8" cy="376" r="0.8" fill="none" stroke="#222" stroke-width="0.7"/>
<path d="M 554.4,330 L 554.4,323.6 Q 555.6,319 560,320 L 562.4,322 L 563,330 M 563,328 L 563.2,321.6 Q 565,317 569,318.4 L 571,321 L 571,328" fill="#fff" stroke="#222" stroke-width="1.15"/>
<circle cx="558.4" cy="325" r="1.2" fill="none" stroke="#222" stroke-width="0.8"/>
<circle cx="566.8" cy="322.4" r="1.2" fill="none" stroke="#222" stroke-width="0.8"/>
<path d="M 556,332 L 555.6,380 M 565,330 L 563,366.4 M 554.4,330 L 565,330" fill="none" stroke="#222" stroke-width="1.15"/>
<path d="M 571,328 L 580,326 L 581,335 L 565,340" fill="none" stroke="#222" stroke-width="1.03"/>
<path d="M 612.4,306 L 606.4,340 M 620,306 L 615.6,340" fill="none" stroke="#222" stroke-width="1.26"/>
<path d="M 620,326 L 624.4,334 L 620.4,346.4 L 616.4,344.4" fill="none" stroke="#222" stroke-width="1.03"/>
<path d="M 538,358 L 608,335.6 Q 615.6,339 611,345.2 L 534,369.2" fill="#fff" stroke="#222" stroke-width="1.26"/>
<path d="M 588,360 L 587.6,352.4 Q 589,347.6 593.6,348.4 L 597,351 L 598.4,362 M 599,356 L 598.4,349.6 Q 600,344.4 605,345.6 L 608.4,348.4 L 609.6,358.4" fill="#fff" stroke="#222" stroke-width="1.15"/>
<circle cx="594.4" cy="358.4" r="1.2" fill="none" stroke="#222" stroke-width="0.8"/>
<circle cx="606.4" cy="353.6" r="1.2" fill="none" stroke="#222" stroke-width="0.8"/>
<path d="M 584.4,358 L 588,360 L 590,364" fill="none" stroke="#222" stroke-width="1.03"/>
<path d="M 602.4,358.4 L 602,404 Q 605,409.6 611,406 L 610.4,400 L 609.6,358.4" fill="#fff" stroke="#222" stroke-width="1.26"/>
<path d="M 602,388 L 610.4,388 M 611,406 L 612.4,401 L 611,396" fill="none" stroke="#222" stroke-width="0.92"/>
<path d="M 532,380 L 531.6,372 Q 533.2,367.6 537.6,368.4 L 540,370.4 L 541,382 M 544,378.4 L 543.6,370.4 Q 545.6,366 549.6,367.2 L 552.4,369.6 L 553.6,379.6" fill="#fff" stroke="#222" stroke-width="1.15"/>
<circle cx="536" cy="380.4" r="1.2" fill="none" stroke="#222" stroke-width="0.8"/>
<circle cx="550" cy="376.8" r="1.2" fill="none" stroke="#222" stroke-width="0.8"/>
<path d="M 532,372 L 520,377 M 531.6,380 L 520,385 M 540,370.4 L 545,369" fill="none" stroke="#222" stroke-width="1.15"/>
<path d="M 528,384 L 529,394 L 536,396 M 520,388 L 528,386" fill="none" stroke="#222" stroke-width="1.03"/>
<ellipse cx="563" cy="387.2" rx="2.8" ry="3.4" fill="#fff" stroke="#222" stroke-width="1.1" transform="rotate(0 563 387.2)"/>
<ellipse cx="563" cy="387.2" rx="1.2" ry="1.6" fill="none" stroke="#222" stroke-width="0.8" transform="rotate(0 563 387.2)"/>
<path d="M 554,380 L 560,385 M 553,382 L 559.2,388" fill="none" stroke="#222" stroke-width="1.03"/>
<text transform="translate(554.4 414.4) scale(0.76 1)" font-size="12.8" text-anchor="middle" font-weight="normal" fill="#111" stroke="#111" stroke-width="0.45" >3</text>
<path d="M 556.4,404.4 L 561.2,390.4" fill="none" stroke="#222" stroke-width="0.8"/>
<path d="M 570,388 L 578,382 L 592,380 L 600,384 L 600.4,394 L 588,400 L 572.4,398 Z" fill="#fff" stroke="#222" stroke-width="1.15"/>
<path d="M 578,382 L 580,390 L 600.4,388 M 580,390 L 572.4,398 M 586,381 L 587,389" fill="none" stroke="#222" stroke-width="1.03"/>
<ellipse cx="578.4" cy="392.4" rx="2" ry="2.8" fill="none" stroke="#222" stroke-width="0.9" transform="rotate(0 578.4 392.4)"/>
<circle cx="596" cy="395.6" r="0.8" fill="none" stroke="#222" stroke-width="0.7"/>
<path d="M 481.2,152.5 L 481.2,195 L 515,213 L 515,240 M 531.8,172.5 L 531.8,215.5 L 560,228" fill="none" stroke="#222" stroke-width="0.69"/>
<path d="M 465,217 L 465,292.5" fill="none" stroke="#222" stroke-width="0.69"/>
<path d="M 473.8,165 L 480,162 L 538.8,181.2 L 538,184.5 L 531.2,188 L 474.5,169.5 Z" fill="#fff" stroke="#222" stroke-width="1.15"/>
<path d="M 473.8,165 L 531.2,184.5 L 538,181.2 M 531.2,184.5 L 531.2,188" fill="none" stroke="#222" stroke-width="1.03"/>
<ellipse cx="488.8" cy="167" rx="2.8" ry="1.5" fill="none" stroke="#222" stroke-width="0.9" transform="rotate(15 488.8 167)"/>
<ellipse cx="523.8" cy="179" rx="2.8" ry="1.5" fill="none" stroke="#222" stroke-width="0.9" transform="rotate(15 523.8 179)"/>
<path d="M 497.5,169 L 506.2,161.5 L 522,165 L 525,171.2 L 518,174 M 506.2,161.5 L 508,165.5 L 520,168.5 L 518,174 M 508,165.5 L 502.5,170.5" fill="none" stroke="#222" stroke-width="1.03"/>
<circle cx="480.5" cy="163" r="0.8" fill="#333" stroke="#222" stroke-width="0.5"/>
<circle cx="530" cy="182.5" r="0.8" fill="#333" stroke="#222" stroke-width="0.5"/>
<path d="M 479.2,147 L 481.8,147 L 481.8,152.5 L 479.2,152.5 Z" fill="#fff" stroke="#222" stroke-width="0.92"/>
<path d="M 477.5,142.5 L 483.5,142.5 L 483.5,147 L 477.5,147 Z" fill="#666" stroke="#222" stroke-width="1.03"/>
<path d="M 530.5,167 L 533,167 L 533,172.5 L 530.5,172.5 Z" fill="#fff" stroke="#222" stroke-width="0.92"/>
<path d="M 528.8,162.5 L 534.8,162.5 L 534.8,167 L 528.8,167 Z" fill="#666" stroke="#222" stroke-width="1.03"/>
<text transform="translate(510 139.5) scale(0.76 1)" font-size="12.8" text-anchor="middle" font-weight="normal" fill="#111" stroke="#111" stroke-width="0.45" >25</text>
<path d="M 505,142.5 L 484.5,144.5" fill="none" stroke="#222" stroke-width="0.8"/>
<path d="M 512,142.5 L 529.5,162" fill="none" stroke="#222" stroke-width="0.8"/>
<text transform="translate(457 168) scale(0.76 1)" font-size="12.8" text-anchor="middle" font-weight="normal" fill="#111" stroke="#111" stroke-width="0.45" >24</text>
<path d="M 463,165 L 473.8,166" fill="none" stroke="#222" stroke-width="0.8"/>
<path d="M 554.2,152 L 556.5,151 L 558.8,152.5 L 558.2,155.5 L 556,156.5 L 554.2,155 Z" fill="#444" stroke="#222" stroke-width="1.03"/>
<ellipse cx="565" cy="150" rx="1.5" ry="2.5" fill="none" stroke="#222" stroke-width="1.0" transform="rotate(0 565 150)"/>
<path d="M 565,120 L 564.5,147.5" fill="none" stroke="#222" stroke-width="0.69"/>
<text transform="translate(541.2 149.5) scale(0.76 1)" font-size="12.8" text-anchor="middle" font-weight="normal" fill="#111" stroke="#111" stroke-width="0.45" >26</text>
<path d="M 547,148 L 553.5,152.5" fill="none" stroke="#222" stroke-width="0.8"/>
<path d="M 573.8,147.5 L 580,145 M 574.5,150.5 L 580,148.8" fill="none" stroke="#222" stroke-width="1.03"/>
<path d="M 437.5,285 L 500,250 L 565,213 M 450,295.5 L 505,263.8 L 566.2,226.2" fill="none" stroke="#222" stroke-width="1.26"/>
<path d="M 490,245 L 491.2,237.5 L 502.5,233.8 L 513.8,237.5 L 515,245 L 510,252.5 L 497.5,255 Z M 491.2,237.5 L 503.8,241.2 L 513.8,237.5 M 503.8,241.2 L 504.5,250" fill="#fff" stroke="#222" stroke-width="1.15"/>
<path d="M 495,237.5 L 502.5,235.5 L 510,238 L 503,240 Z" fill="none" stroke="#222" stroke-width="1.61"/>
<path d="M 522,232.5 L 523,225.5 L 532.5,222.5 L 545,225 L 545.5,229.5 L 535,235.5 L 527.5,237.5 Z M 523,225.5 L 533.8,229 L 545,225 M 533.8,229 L 535,235.5" fill="#fff" stroke="#222" stroke-width="1.15"/>
<path d="M 470.5,266.2 L 472,260 L 485,253.8 L 497.5,257 L 497.5,261.2 L 480,267.5 L 476.2,271.2 Z M 485,253.8 L 486.2,258 L 497.5,261.2 M 486.2,258 L 476.2,265" fill="#fff" stroke="#222" stroke-width="1.15"/>
<path d="M 476.2,255 L 477.5,250 L 482.5,249.5 L 483.8,253.8" fill="none" stroke="#222" stroke-width="1.03"/>
<path d="M 432.5,292.5 L 433,285.5 L 442.5,282 L 452.5,285 L 453,292.5 L 443.8,298 Z M 433,285.5 L 443.8,289.5 L 452.5,285 M 443.8,289.5 L 443.8,298" fill="#fff" stroke="#222" stroke-width="1.15"/>
<path d="M 529.5,287.5 L 530.5,277.5 L 542.5,272 L 555,276.2 L 555,282.5 L 540,292.5 Z M 530.5,277.5 L 542,282 L 555,276.2 M 542,282 L 540,292.5" fill="#fff" stroke="#222" stroke-width="1.15"/>
<path d="M 536.2,276.2 L 542.5,273.8 L 548.8,276.2 L 542.5,279 Z" fill="none" stroke="#222" stroke-width="1.49"/>
<path d="M 557.5,270 L 558,263 L 566.2,260 L 573.8,263 L 573.8,270 L 566.2,273 Z" fill="#fff" stroke="#222" stroke-width="1.15"/>
<path d="M 462.5,295 L 463.8,285 L 468,282.5 L 472,285 L 471.2,295" fill="#fff" stroke="#222" stroke-width="1.15"/>
<path d="M 400,294.4 L 422,289.6 L 433.6,292 Q 440,296 440,308 L 439.6,320 M 400,302.4 L 420,298 L 430,300 Q 434.4,304 434.4,318" fill="none" stroke="#222" stroke-width="1.26"/>
<path d="M 400,288 L 408,285 L 410,282.4 L 404,284 L 400,286" fill="none" stroke="#222" stroke-width="1.03"/>
<path d="M 400,300 L 408,301" fill="none" stroke="#222" stroke-width="1.84"/>
<path d="M 490,308 L 528,288 L 560,268 M 498,320 L 532,300 L 560,282.4" fill="none" stroke="#222" stroke-width="1.26"/>
<path d="M 499,262.4 L 487.2,308 M 506.4,260 L 495.2,310 M 505,266 L 518,310 M 513,262.4 L 527,300" fill="none" stroke="#222" stroke-width="1.26"/>
<path d="M 508,274 Q 514,284 512,300 M 515,274 Q 520,284 518,296" fill="none" stroke="#222" stroke-width="1.03"/>
<path d="M 464,284 L 464.4,297 M 471.2,282.4 L 472,296 M 468,297 L 481,313 M 473,295 L 486,310 M 470,298 L 482,312" fill="none" stroke="#222" stroke-width="1.15"/>
<path d="M 460,289 L 464,287 M 472,289 L 476,288 L 477,292" fill="none" stroke="#222" stroke-width="1.03"/>
<path d="M 454,292 L 458,300 L 466,308 M 440,308 L 452,305 L 456,308 L 454,320" fill="none" stroke="#222" stroke-width="1.03"/>
<path d="M 488,308 L 492,305 L 504,308 L 509,313.6 M 492,305 L 493,310" fill="none" stroke="#222" stroke-width="1.15"/>
<path d="M 441,306 L 442,318 M 449,304 L 450,318" fill="none" stroke="#222" stroke-width="1.03"/>
<path d="M 528,300 L 530,320 M 534,298 L 538,324 M 540,292 L 556,340 M 548,288 L 560,320" fill="none" stroke="#222" stroke-width="1.15"/>
<path d="M 532,308 L 544,304 M 532,312 L 546,308 M 538,320 Q 544,312 552,318" fill="none" stroke="#222" stroke-width="1.03"/>
<ellipse cx="556.4" cy="325" rx="2" ry="3.2" fill="none" stroke="#222" stroke-width="0.9" transform="rotate(0 556.4 325)"/>
<path d="M 611.5,142 L 611.5,235" fill="none" stroke="#222" stroke-width="0.69"/>
<path d="M 590,199.6 L 656,173.8 M 590,208.6 L 663.5,182.8 M 632,229 L 701,202 M 633.5,241 L 710,212.8" fill="none" stroke="#222" stroke-width="0.57" stroke-dasharray="10 2 2 2"/>
<path d="M 574.4,148 L 578,144.4 L 587,145.6 L 590,140.5 L 592.4,141.4 L 591.5,147.4 L 612.5,154.6 L 613.4,159.4 L 609.5,163 L 605,161.5 L 604.4,164.5 L 602,163.6 L 602.6,160 L 582.5,153.4 L 581.6,157 L 578.6,155.8 L 579.2,151.6 Z" fill="#fff" stroke="#222" stroke-width="1.15"/>
<path d="M 578,144.4 L 580.4,148 L 609.5,158.5 L 613.4,154.6 M 590,150.4 L 591.2,152.8 M 594.5,151.6 L 595.7,154 M 599,153.4 L 600.2,155.8 M 603.5,154.6 L 604.7,157" fill="none" stroke="#222" stroke-width="1.03"/>
<circle cx="589.4" cy="139.6" r="1.5" fill="none" stroke="#222" stroke-width="0.8"/>
<ellipse cx="565.4" cy="149.5" rx="2.1" ry="3.3" fill="none" stroke="#222" stroke-width="1.0" transform="rotate(0 565.4 149.5)"/>
<text transform="translate(563.6 118.6) scale(0.76 1)" font-size="12.8" text-anchor="middle" font-weight="normal" fill="#111" stroke="#111" stroke-width="0.45" >31</text>
<path d="M 564.2,121 L 565.1,145" fill="none" stroke="#222" stroke-width="0.8"/>
<text transform="translate(572.6 137.2) scale(0.76 1)" font-size="12.8" text-anchor="middle" font-weight="normal" fill="#111" stroke="#111" stroke-width="0.45" >27</text>
<path d="M 578.6,135.4 L 588.5,140.2" fill="none" stroke="#222" stroke-width="0.8"/>
<path d="M 608.9,137.8 L 611.3,136.6 L 613.7,138.4 L 613.1,141.7 L 610.7,142.9 L 608.9,141.1 Z" fill="#444" stroke="#222" stroke-width="1.03"/>
<ellipse cx="611" cy="154" rx="2.7" ry="1.5" fill="none" stroke="#222" stroke-width="1.0" transform="rotate(0 611 154)"/>
<text transform="translate(630.5 151) scale(0.76 1)" font-size="12.8" text-anchor="middle" font-weight="normal" fill="#111" stroke="#111" stroke-width="0.45" >26</text>
<path d="M 623.6,147.4 L 615.2,140.8" fill="none" stroke="#222" stroke-width="0.8"/>
<text transform="translate(626 167.2) scale(0.76 1)" font-size="12.8" text-anchor="middle" font-weight="normal" fill="#111" stroke="#111" stroke-width="0.45" >31</text>
<path d="M 620,161.5 L 614,155.8" fill="none" stroke="#222" stroke-width="0.8"/>
<text transform="translate(640.4 142.6) scale(0.76 1)" font-size="12.8" text-anchor="middle" font-weight="normal" fill="#111" stroke="#111" stroke-width="0.45" >32</text>
<path d="M 640.4,145 L 640.4,176.5" fill="none" stroke="#222" stroke-width="0.8"/>
<path d="M 633.5,180.4 L 638.6,177.4 L 645.5,178.6 L 646.4,190 L 641,199 L 635,196.6 Z" fill="#fff" stroke="#222" stroke-width="1.15"/>
<path d="M 638.6,177.4 L 639.8,196.6 M 633.5,180.4 L 639.8,182.5" fill="none" stroke="#222" stroke-width="1.03"/>
<circle cx="636.8" cy="184.6" r="0.9" fill="none" stroke="#222" stroke-width="0.7"/>
<circle cx="637.1" cy="191.5" r="0.9" fill="none" stroke="#222" stroke-width="0.7"/>
<circle cx="642.8" cy="184" r="0.9" fill="none" stroke="#222" stroke-width="0.7"/>
<circle cx="642.8" cy="190" r="0.9" fill="none" stroke="#222" stroke-width="0.7"/>
<path d="M 653.6,173.2 L 657.2,172 L 657.5,174.4 L 653.9,175.6 Z" fill="#fff" stroke="#222" stroke-width="0.8"/>
<ellipse cx="659" cy="172.6" rx="2.7" ry="3" fill="#333" stroke="#222" stroke-width="0.9" transform="rotate(0 659 172.6)"/>
<circle cx="659.6" cy="172.3" r="1.2" fill="#fff" stroke="#222" stroke-width="0.5"/>
<path d="M 660.2,182.8 L 663.8,181.6 L 664.1,184 L 660.5,185.2 Z" fill="#fff" stroke="#222" stroke-width="0.8"/>
<ellipse cx="665.6" cy="182.2" rx="2.7" ry="3" fill="#333" stroke="#222" stroke-width="0.9" transform="rotate(0 665.6 182.2)"/>
<circle cx="666.2" cy="181.9" r="1.2" fill="#fff" stroke="#222" stroke-width="0.5"/>
<path d="M 695,201.7 L 698.6,200.5 L 698.9,202.9 L 695.3,204.1 Z" fill="#fff" stroke="#222" stroke-width="0.8"/>
<ellipse cx="700.4" cy="201.1" rx="2.7" ry="3" fill="#333" stroke="#222" stroke-width="0.9" transform="rotate(0 700.4 201.1)"/>
<circle cx="701" cy="200.8" r="1.2" fill="#fff" stroke="#222" stroke-width="0.5"/>
<path d="M 704.6,212.2 L 708.2,211 L 708.5,213.4 L 704.9,214.6 Z" fill="#fff" stroke="#222" stroke-width="0.8"/>
<ellipse cx="710" cy="211.6" rx="2.7" ry="3" fill="#333" stroke="#222" stroke-width="0.9" transform="rotate(0 710 211.6)"/>
<circle cx="710.6" cy="211.3" r="1.2" fill="#fff" stroke="#222" stroke-width="0.5"/>
<text transform="translate(687.5 171.4) scale(0.76 1)" font-size="12.8" text-anchor="middle" font-weight="normal" fill="#111" stroke="#111" stroke-width="0.45" >22</text>
<path d="M 680.6,167.5 L 663.5,172" fill="none" stroke="#222" stroke-width="0.8"/>
<path d="M 681.5,169.6 L 669.5,180.4" fill="none" stroke="#222" stroke-width="0.8"/>
<text transform="translate(725 199.6) scale(0.76 1)" font-size="12.8" text-anchor="middle" font-weight="normal" fill="#111" stroke="#111" stroke-width="0.45" >22</text>
<path d="M 718.4,196.6 L 704.6,200.5" fill="none" stroke="#222" stroke-width="0.8"/>
<path d="M 719,199 L 713.6,209.8" fill="none" stroke="#222" stroke-width="0.8"/>
<path d="M 669.5,212.5 L 673.4,210.4 L 693.5,217.6 L 694.4,224.5 L 675.5,232 L 670.4,229 Z" fill="#fff" stroke="#222" stroke-width="1.15"/>
<path d="M 673.4,210.4 L 675.5,232 M 677,217.6 L 692,219.4" fill="none" stroke="#222" stroke-width="1.03"/>
<path d="M 679.4,219.4 Q 678.5,223.6 682.4,224.2 L 689,223.6 Q 692,221.5 689.6,218.8 Z" fill="none" stroke="#222" stroke-width="1.03"/>
<circle cx="671.6" cy="217" r="0.9" fill="none" stroke="#222" stroke-width="0.7"/>
<circle cx="672.2" cy="224.5" r="0.9" fill="none" stroke="#222" stroke-width="0.7"/>
<text transform="translate(675.5 265.6) scale(0.76 1)" font-size="12.8" text-anchor="middle" font-weight="normal" fill="#111" stroke="#111" stroke-width="0.45" >33</text>
<path d="M 675.5,253.6 L 675.5,232.6" fill="none" stroke="#222" stroke-width="0.8"/>
<path d="M 586.4,264 L 620,249.2 L 617.2,298 L 592.4,298.4 L 587.2,292 Z" fill="#fff" stroke="#222" stroke-width="1.15"/>
<path d="M 590,266 L 591,292" fill="none" stroke="#222" stroke-width="0.92"/>
<circle cx="615" cy="248" r="0.6" fill="#333" stroke="#222" stroke-width="0.5"/>
<circle cx="589" cy="268" r="0.6" fill="#333" stroke="#222" stroke-width="0.5"/>
<path d="M 552.4,180 L 553.6,194 Q 555,202 560,204.4 M 560,180 L 561,195" fill="none" stroke="#222" stroke-width="1.26"/>
<path d="M 552.4,182 Q 556,183.6 560,181.6" fill="none" stroke="#222" stroke-width="0.92"/>
<path d="M 551.2,177 L 552,173 L 556.8,171.6 L 560.8,172.8 L 561.2,178.4 L 560,180.4 M 552,173 L 556.4,174.8 L 560.8,172.8 M 556.4,174.8 L 556.4,180 M 551.2,177 L 552.4,180" fill="none" stroke="#222" stroke-width="1.15"/>
<path d="M 561,195 L 634,222.4 Q 640,224.4 640,230 M 560,204.4 L 628,230" fill="none" stroke="#222" stroke-width="1.38"/>
<path d="M 640,220 L 641,212 L 649.6,213.2 L 651.2,220 L 650,229.2 L 640,230.4 Z" fill="#fff" stroke="#222" stroke-width="1.26"/>
<path d="M 641,212 L 642.4,215.6 L 650.4,216.4 M 642.4,215.6 L 642,223 L 650,223.6" fill="none" stroke="#222" stroke-width="1.03"/>
<path d="M 589,210 L 593.6,209.2 L 594.8,215.2 L 590,216.4 Z" fill="#444" stroke="#222" stroke-width="0.8"/>
<circle cx="615" cy="217.2" r="0.6" fill="#333" stroke="#222" stroke-width="0.5"/>
<path d="M 628,230 Q 631,234 628,238.4" fill="none" stroke="#222" stroke-width="1.15"/>
<path d="M 563.6,207 Q 570,204.4 576.4,208 L 576.8,212 L 564,211.6 Z" fill="#fff" stroke="#222" stroke-width="1.15"/>
<path d="M 565.2,211.6 L 564.4,217 M 574.4,212 L 574.4,217" fill="none" stroke="#222" stroke-width="1.15"/>
<path d="M 561.6,217.6 Q 569,214.4 576.8,218 L 577.2,225.6 L 562,226.4 Z" fill="#fff" stroke="#222" stroke-width="1.26"/>
<path d="M 565.6,226.4 L 565,260 M 574,226 L 573.6,259.2" fill="none" stroke="#222" stroke-width="1.26"/>
<path d="M 562,221 Q 569,219 577.2,221.6" fill="none" stroke="#222" stroke-width="0.92"/>
<path d="M 621.6,240 Q 628,236.8 634.4,240 L 634.8,248 L 622,248.8 Z" fill="#fff" stroke="#222" stroke-width="1.26"/>
<path d="M 622,243.6 Q 628,241.2 634.8,244" fill="none" stroke="#222" stroke-width="0.92"/>
<path d="M 623.2,248.8 L 617.2,296.4 M 630.4,248.4 L 626,293" fill="none" stroke="#222" stroke-width="1.26"/>
<path d="M 608.4,235.6 L 611.2,234 L 614,235.6 L 614,239.2 L 611.2,240.8 L 608.4,239.2 Z" fill="#fff" stroke="#222" stroke-width="1.15"/>
<circle cx="611.2" cy="237.4" r="1.2" fill="none" stroke="#222" stroke-width="0.7"/>
<path d="M 540,277 L 624,240 M 540,292 L 559,284 M 574,274 L 588,265" fill="none" stroke="#222" stroke-width="1.38"/>
<path d="M 576,249 L 583,244 L 598.4,247.2 L 599.2,253.2 L 584.4,260.4 L 577.2,256.4 Z" fill="#fff" stroke="#222" stroke-width="1.26"/>
<path d="M 583,244 L 584.4,251.2 L 599.2,253.2 M 584.4,251.2 L 584.4,260.4" fill="none" stroke="#222" stroke-width="1.03"/>
<circle cx="589" cy="255" r="0.6" fill="none" stroke="#222" stroke-width="0.6"/>
<circle cx="594" cy="253" r="0.6" fill="none" stroke="#222" stroke-width="0.6"/>
<path d="M 558,265 L 560,260.4 L 570,259.2 L 573.6,262.4 L 573.2,269 L 566,272.4 L 558.4,270 Z" fill="#fff" stroke="#222" stroke-width="1.15"/>
<path d="M 560,260.4 L 565.6,264 L 573.6,262.4 M 565.6,264 L 566,272.4" fill="none" stroke="#222" stroke-width="1.03"/>
<path d="M 540,274 L 546,271 L 555,274 L 555.6,280 L 548,284 L 540,281 M 546,271 L 547,278 L 555.6,280" fill="none" stroke="#222" stroke-width="1.15"/>
<ellipse cx="544" cy="228" rx="2" ry="2.8" fill="none" stroke="#222" stroke-width="0.9" transform="rotate(0 544 228)"/>
<path d="M 540,223 L 548,220 L 550,230 L 540,234" fill="none" stroke="#222" stroke-width="1.15"/>
<path d="M 626,260.4 L 640,259.6 L 644.4,268 L 642.4,284.4 L 634,292.4 L 626,289" fill="#fff" stroke="#222" stroke-width="1.26"/>
<ellipse cx="634" cy="275.6" rx="4.8" ry="6" fill="none" stroke="#222" stroke-width="1.1" transform="rotate(-8 634 275.6)"/>
<ellipse cx="634" cy="275.6" rx="3.4" ry="4.4" fill="none" stroke="#222" stroke-width="0.8" transform="rotate(-8 634 275.6)"/>
<circle cx="629.6" cy="265" r="0.6" fill="none" stroke="#222" stroke-width="0.7"/>
<circle cx="640" cy="268" r="0.6" fill="none" stroke="#222" stroke-width="0.7"/>
<circle cx="639" cy="285" r="0.6" fill="none" stroke="#222" stroke-width="0.7"/>
<circle cx="629" cy="285" r="0.6" fill="none" stroke="#222" stroke-width="0.7"/>
<path d="M 631,256 L 644,256.8 M 631,258.4 L 644,259.2" fill="none" stroke="#222" stroke-width="1.84"/>
<path d="M 612,300 L 614,294.4 L 626,292 L 634,295 L 634.4,303 L 626,308 L 613,306 Z" fill="#fff" stroke="#222" stroke-width="1.26"/>
<path d="M 614,294.4 L 624,298 L 634,295 M 624,298 L 625,308 M 620,292 L 621,297" fill="none" stroke="#222" stroke-width="1.03"/>
<path d="M 612.4,308 L 608,340 M 625,308.4 L 621,340" fill="none" stroke="#222" stroke-width="1.26"/>
<path d="M 626,308 L 632,340" fill="none" stroke="#222" stroke-width="1.03"/>
<path d="M 564,304 L 570,298.4 L 600,300 L 610,308 L 609,318 L 580,321 L 565,314 Z" fill="#fff" stroke="#222" stroke-width="1.26"/>
<path d="M 570,298.4 L 580,308 L 610,308 M 580,308 L 580,321 M 574,305 L 596,305 L 600,310 L 582,311 Z" fill="none" stroke="#222" stroke-width="1.15"/>
<ellipse cx="583" cy="306.4" rx="3.2" ry="1.8" fill="none" stroke="#222" stroke-width="0.9" transform="rotate(0 583 306.4)"/>
<path d="M 564,300 L 560,308 L 558,320 M 552,292 L 558,308" fill="none" stroke="#222" stroke-width="1.15"/>
<path d="M 552.2,335 L 552.6,325 Q 557,318.6 561.4,325 L 561.8,335" fill="#fff" stroke="#222" stroke-width="1.26"/>
<ellipse cx="557" cy="326.2" rx="2" ry="2.6" fill="#666" stroke="#222" stroke-width="0.9" transform="rotate(0 557 326.2)"/>
<path d="M 561.6,332.4 L 562,322.4 Q 566.4,316 570.8,322.4 L 571.2,332.4" fill="#fff" stroke="#222" stroke-width="1.26"/>
<ellipse cx="566.4" cy="323.6" rx="2" ry="2.6" fill="#666" stroke="#222" stroke-width="0.9" transform="rotate(0 566.4 323.6)"/>
<path d="M 540,320 L 550,318 L 552,324 M 540,340 L 564,336 M 570,334 L 608,324" fill="none" stroke="#222" stroke-width="1.15"/>
<path d="M 540,304 L 552,340 M 548,300 L 560,336" fill="none" stroke="#222" stroke-width="1.15"/>
<path d="M 43.5,665.5 L 57.2,645.5 L 61,649.2 L 78.8,638.5 L 82.2,640.5 L 84.5,651.5 L 64.5,663.5 L 63.5,670 L 48,668.5 Z" fill="#fff" stroke="#222" stroke-width="1.15"/>
<path d="M 46.5,667.8 L 59.8,649.8 L 62,651.6 L 63.5,670 M 46.5,667.8 L 48,668.5 M 46.5,667.8 L 43.5,665.5 M 62,651.6 L 80,641 L 82.2,640.5 M 80,641 L 82.2,652.6 L 84.5,651.5 M 82.2,652.6 L 64.2,663.8 M 59.8,649.8 L 61,649.2" fill="none" stroke="#222" stroke-width="1.03"/>
<text transform="translate(62.2 662.2) rotate(-31) skewX(-12) scale(0.78 1)" font-size="11.5" font-weight="bold" font-style="italic" fill="#111" stroke="#111" stroke-width="0.5" style="font-family:'Liberation Serif',serif">FWD</text>
<rect x="440" y="240" width="160" height="160" fill="#fff"/>
<path d="M 465,240 L 465,283" fill="none" stroke="#222" stroke-width="0.69"/>
<path d="M 440,290 L 448.8,286.2 L 487.4,270 L 508,261 L 536,248 L 552,240 M 446,296.4 L 460,290 L 507,266.4 L 528,255.6 L 560,240" fill="none" stroke="#222" stroke-width="1.44"/>
<path d="M 504.4,267 L 444.2,400 M 512.4,264 L 452.4,400" fill="none" stroke="#222" stroke-width="1.44"/>
<path d="M 510,262 L 519,308 M 517,259 L 528,306 M 513,270 Q 520,286 521,306" fill="none" stroke="#222" stroke-width="1.32"/>
<path d="M 492.4,305.2 L 530,287.2 L 600,255.2 M 507,312.4 L 534,298.4 L 600,266" fill="none" stroke="#222" stroke-width="1.49"/>
<path d="M 440,320.6 L 506,316.8 L 520,310 M 440,329 L 500,324.8 L 517,319" fill="none" stroke="#222" stroke-width="1.49"/>
<path d="M 500,306 Q 506,310 506,317.2 M 506,304 Q 512,308 512.4,314.4" fill="none" stroke="#222" stroke-width="1.15"/>
<path d="M 490,309 L 491,304.4 L 500,302.4 L 506,305 M 491,304.4 L 498,307 L 506,305" fill="none" stroke="#222" stroke-width="1.15"/>
<path d="M 517,314.4 L 528.4,308.4 L 531.2,352.4 L 521.2,360 Z" fill="#fff" stroke="#222" stroke-width="1.38"/>
<path d="M 519.6,314.4 L 523,358 M 526,310 L 529,353" fill="none" stroke="#222" stroke-width="1.03"/>
<circle cx="521.6" cy="320" r="0.6" fill="none" stroke="#222" stroke-width="0.6"/>
<circle cx="524" cy="352" r="0.6" fill="none" stroke="#222" stroke-width="0.6"/>
<circle cx="532.4" cy="305" r="0.8" fill="#444" stroke="#222" stroke-width="0.5"/>
<path d="M 568,274 L 553.8,300 M 578,270 L 563,300" fill="none" stroke="#222" stroke-width="1.44"/>
<path d="M 534,316 L 540,312 L 544,320 L 539,324 M 542,319 L 546,322" fill="none" stroke="#222" stroke-width="1.15"/>
<path d="M 470,268.4 L 477.6,264 L 500,265.4 L 500,270.8 L 479,275.6 L 470,274 Z" fill="#fff" stroke="#222" stroke-width="1.32"/>
<path d="M 470,268.4 L 479,270.4 L 500,265.4 M 479,270.4 L 479,275.6" fill="none" stroke="#222" stroke-width="1.15"/>
<path d="M 477,254 L 478,250 L 483,249.6 L 484,253" fill="none" stroke="#222" stroke-width="1.15"/>
<path d="M 434,288 L 438.4,283 L 452,284.4 L 452,290.4 L 439.4,296 L 434,294 Z" fill="#fff" stroke="#222" stroke-width="1.32"/>
<path d="M 434,288 L 439.4,290 L 452,284.4 M 439.4,290 L 439.4,296" fill="none" stroke="#222" stroke-width="1.15"/>
<path d="M 529,279.6 L 535.8,274 L 556,275.6 L 556,282.2 L 537.2,288.4 L 529,286 Z" fill="#fff" stroke="#222" stroke-width="1.32"/>
<path d="M 529,279.6 L 537.2,281.6 L 556,275.6 M 537.2,281.6 L 537.2,288.4" fill="none" stroke="#222" stroke-width="1.15"/>
<path d="M 536,277 L 544,274 L 551,276.4 L 544,279.6 Z" fill="none" stroke="#222" stroke-width="1.61"/>
<path d="M 558,262.4 L 561.8,258 L 573,259.4 L 573,264.8 L 562.4,269.6 L 558,268 Z" fill="#fff" stroke="#222" stroke-width="1.32"/>
<path d="M 558,262.4 L 562.4,264.4 L 573,259.4 M 562.4,264.4 L 562.4,269.6" fill="none" stroke="#222" stroke-width="1.15"/>
<path d="M 576,250 L 581,245 L 596,246.4 L 596,252.4 L 582,258 L 576,256 Z" fill="#fff" stroke="#222" stroke-width="1.32"/>
<path d="M 576,250 L 582,252 L 596,246.4 M 582,252 L 582,258" fill="none" stroke="#222" stroke-width="1.15"/>
<path d="M 490,242 L 492.4,240 M 492.4,250 L 494,242 L 506,240 M 492.4,250 L 500,254 L 516,249 L 517,240" fill="none" stroke="#222" stroke-width="1.26"/>
<path d="M 560,259 L 568,240 M 572,260 L 573,240 M 565,260 L 566,240" fill="none" stroke="#222" stroke-width="1.15"/>
<path d="M 463.6,283 L 464,295 L 470,300 M 472,281 L 472.4,294 M 464,288 L 472,287" fill="none" stroke="#222" stroke-width="1.26"/>
<path d="M 470,300 L 483,320 M 475,297 L 488,317 M 472,299 L 485,319" fill="none" stroke="#222" stroke-width="1.15"/>
<path d="M 452,296 L 460,300 L 462,306 M 446,296.4 L 447,306 M 440,302 L 447,303.6" fill="none" stroke="#222" stroke-width="1.15"/>
<path d="M 440,291 L 439,298" fill="none" stroke="#222" stroke-width="1.15"/>
<path d="M 455.6,332 L 458,326.4 L 469,325 L 470.4,329 L 468,332.4 Z" fill="#fff" stroke="#222" stroke-width="1.15"/>
<circle cx="461" cy="328.4" r="0.8" fill="none" stroke="#222" stroke-width="0.7"/>
<circle cx="466.4" cy="328" r="0.8" fill="none" stroke="#222" stroke-width="0.7"/>
<path d="M 451.6,330 L 454,329.2 L 454.4,331.6 L 452,332.4 Z" fill="#666" stroke="#222" stroke-width="1.03"/>
<path d="M 451.6,337.6 L 469,335.6 L 469.6,338 L 452.4,340 Z" fill="#fff" stroke="#222" stroke-width="1.03"/>
<path d="M 452.4,338.8 L 469,336.8" fill="none" stroke="#222" stroke-width="1.84"/>
<text transform="translate(443 345.2) scale(0.76 1)" font-size="12.8" text-anchor="middle" font-weight="normal" fill="#111" stroke="#111" stroke-width="0.45" >29</text>
<path d="M 448,341 L 451.6,338.4" fill="none" stroke="#222" stroke-width="0.8"/>
<path d="M 450,344.4 L 452,344.4 L 452,348.4 L 450,348.4 Z" fill="#fff" stroke="#222" stroke-width="0.8"/>
<path d="M 448.2,348.8 L 449.4,347.6 L 452.6,347.6 L 453.8,348.8 L 453.4,351.6 L 448.6,351.6 Z" fill="#666" stroke="#222" stroke-width="1.03"/>
<path d="M 463,346 L 465,346 L 465,350 L 463,350 Z" fill="#fff" stroke="#222" stroke-width="0.8"/>
<path d="M 461.2,350.4 L 462.4,349.2 L 465.6,349.2 L 466.8,350.4 L 466.4,353.2 L 461.6,353.2 Z" fill="#666" stroke="#222" stroke-width="1.03"/>
<path d="M 451.2,340 L 451.2,344.4 M 464,339 L 464,346" fill="none" stroke="#222" stroke-width="0.57"/>
<text transform="translate(448 370.4) scale(0.76 1)" font-size="12.8" text-anchor="middle" font-weight="normal" fill="#111" stroke="#111" stroke-width="0.45" >22</text>
<path d="M 449,361.6 L 451,352.4" fill="none" stroke="#222" stroke-width="0.8"/>
<path d="M 450.4,362 L 463,354" fill="none" stroke="#222" stroke-width="0.8"/>
<path d="M 485,328 L 490.4,324 L 497,337.6 L 496.4,349 L 488.4,355 L 481,352.4 L 478.4,348" fill="none" stroke="#222" stroke-width="1.26"/>
<circle cx="487.6" cy="344" r="1" fill="none" stroke="#222" stroke-width="0.8"/>
<path d="M 455,368 L 459.6,370 L 452,386 M 457.6,369 L 450,384" fill="none" stroke="#222" stroke-width="1.15"/>
<path d="M 452,368 L 440,400" fill="none" stroke="#222" stroke-width="0.92"/>
<path d="M 496,344 L 500,345 M 497,348 L 500,349 M 478,360 L 486,358 L 488,362" fill="none" stroke="#222" stroke-width="1.15"/>
<path d="M 553.8,300 L 531,360 L 524,384 M 563,300 L 540,360 L 534,380" fill="none" stroke="#222" stroke-width="1.44"/>
<path d="M 531.2,352.4 L 530,368 L 528,384 M 521.2,360 L 519,380" fill="none" stroke="#222" stroke-width="1.38"/>
<path d="M 519,368 Q 524,370 530,368" fill="none" stroke="#222" stroke-width="1.03"/>
<path d="M 568,300 L 600,295 M 568,300 L 569,309 L 588,314.4 L 600,312 M 569,309 L 578,306 L 600,303.6 M 578,306 L 578,300" fill="none" stroke="#222" stroke-width="1.32"/>
<ellipse cx="581" cy="304.4" rx="3.2" ry="1.8" fill="none" stroke="#222" stroke-width="1.0" transform="rotate(0 581 304.4)"/>
<path d="M 580,298 L 592,296.4 L 593,300 L 581,301.6 Z" fill="none" stroke="#222" stroke-width="1.15"/>
<path d="M 587,264 L 589,294 M 592,262 L 595,293" fill="none" stroke="#222" stroke-width="1.26"/>
<path d="M 553.6,330.4 L 554.2,323.8 Q 559,316.6 563.8,323.8 L 564.4,330.4" fill="#fff" stroke="#222" stroke-width="1.44"/>
<path d="M 552.6,331 L 553.2,324.4 Q 558,317.2 562.8,324.4 L 563.4,331" fill="#fff" stroke="#222" stroke-width="1.44"/>
<circle cx="558" cy="324.4" r="1.6" fill="#555" stroke="#222" stroke-width="1.2"/>
<path d="M 563,327.4 L 563.6,320.8 Q 568,313.6 572.4,320.8 L 573,327.4" fill="#fff" stroke="#222" stroke-width="1.44"/>
<path d="M 562,328 L 562.4,321.4 Q 567,314.2 571.6,321.4 L 572,328" fill="#fff" stroke="#222" stroke-width="1.44"/>
<circle cx="567" cy="321.4" r="1.6" fill="#555" stroke="#222" stroke-width="1.2"/>
<path d="M 556,331.6 L 557,368 M 565.6,329 L 566.4,352" fill="none" stroke="#222" stroke-width="1.38"/>
<path d="M 571,325 L 582.4,322.4 L 583.6,331 L 566.4,335.6" fill="none" stroke="#222" stroke-width="1.15"/>
<path d="M 537.4,353 L 600,337 M 540,363 L 600,347" fill="none" stroke="#222" stroke-width="1.49"/>
<path d="M 500,344 L 520,348 M 500,349 L 520,352.4 M 536,352 L 544,360 M 534,344 L 548,348" fill="none" stroke="#222" stroke-width="1.26"/>
<path d="M 548,334 L 556,336 M 548,340 L 555,341" fill="none" stroke="#222" stroke-width="1.15"/>
<path d="M 529.4,383.4 L 529.2,376.4 Q 534.6,368 542,374.6 L 543.8,381.4" fill="#fff" stroke="#222" stroke-width="1.44"/>
<path d="M 528.4,384 L 528.2,377 Q 533.6,368.6 541,375.2 L 542.8,382" fill="#fff" stroke="#222" stroke-width="1.44"/>
<circle cx="534.6" cy="376.1" r="1.6" fill="none" stroke="#222" stroke-width="1.2"/>
<path d="M 544.2,380.2 L 544,373.6 Q 548.6,365.6 555.4,372 L 557,378.6" fill="#fff" stroke="#222" stroke-width="1.44"/>
<path d="M 543.2,380.8 L 543,374.2 Q 547.6,366.2 554.4,372.6 L 556,379.2" fill="#fff" stroke="#222" stroke-width="1.44"/>
<circle cx="548.7" cy="373.3" r="1.6" fill="none" stroke="#222" stroke-width="1.2"/>
<path d="M 528,384 L 524,400 M 519,380 L 516,400 M 560,380 L 568,378 L 580,384 L 581,392 L 570,398 M 580,384 L 600,380 M 588,368 L 600,365.6 M 588,368 L 589,378" fill="none" stroke="#222" stroke-width="1.26"/>
<ellipse cx="563" cy="387" rx="2" ry="2.8" fill="none" stroke="#222" stroke-width="1.2" transform="rotate(0 563 387)"/>
<path d="M 528,358 L 540,362 M 540,368 L 548,370" fill="none" stroke="#222" stroke-width="0.92"/>
<path d="M 554,360 L 600,372 M 560,368 L 600,378" fill="none" stroke="#222" stroke-width="0.57" stroke-dasharray="12 2 2 2"/>
<path d="M 376.8,367.7 L 381.8,372.8 M 375,374.8 L 362.2,393.5 M 381,383 L 375,374.8 M 402.9,378.8 L 408,381.5 M 392.2,391.7 L 426,420.1 M 418.5,404 L 435,420.1 M 429,392 L 418.5,404" fill="none" stroke="#222" stroke-width="0.57"/>
<path d="M 349.5,371 L 346.5,383 L 352.5,386 L 355.8,380" fill="#fff" stroke="#222" stroke-width="1.15"/>
<path d="M 357.8,344.8 L 360,352.2 L 365.2,357.5 L 366.8,373.2 L 363,379.2 L 356.2,377.8 L 350.2,370.2 L 349.5,363.5 L 354,353 Z" fill="#fff" stroke="#222" stroke-width="1.38"/>
<path d="M 357.8,344.8 L 375,338 L 381.8,344.8 L 382.5,348.8 L 379.5,352.2 L 365.2,357.5 L 360,352.2 Z" fill="#fff" stroke="#222" stroke-width="1.38"/>
<path d="M 365.2,357.5 L 366,353.8 L 378.8,348.8 L 381.8,344.8" fill="none" stroke="#222" stroke-width="1.03"/>
<ellipse cx="365.2" cy="347.3" rx="2.1" ry="1.3" fill="none" stroke="#222" stroke-width="1.1" transform="rotate(-20 365.2 347.3)"/>
<ellipse cx="372.3" cy="344.3" rx="1.9" ry="1.2" fill="none" stroke="#222" stroke-width="1.1" transform="rotate(-20 372.3 344.3)"/>
<circle cx="376.8" cy="342.5" r="0.6" fill="none" stroke="#222" stroke-width="0.8"/>
<ellipse cx="357.9" cy="356.9" rx="1.5" ry="2.2" fill="none" stroke="#222" stroke-width="1.1" transform="rotate(10 357.9 356.9)"/>
<ellipse cx="354" cy="366.8" rx="1.5" ry="2.2" fill="none" stroke="#222" stroke-width="1.1" transform="rotate(10 354 366.8)"/>
<path d="M 362.4,363.2 L 363.6,369.8" fill="none" stroke="#222" stroke-width="2.76"/>
<circle cx="364.5" cy="359.8" r="0.4" fill="none" stroke="#222" stroke-width="0.7"/>
<circle cx="360.8" cy="374" r="0.4" fill="none" stroke="#222" stroke-width="0.7"/>
<ellipse cx="357" cy="390.5" rx="3.8" ry="4" fill="#fff" stroke="#222" stroke-width="1.4" transform="rotate(0 357 390.5)"/>
<circle cx="357" cy="390.5" r="1.3" fill="none" stroke="#222" stroke-width="1.0"/>
<text transform="translate(345.8 417.5) scale(0.76 1)" font-size="12.8" text-anchor="middle" font-weight="normal" fill="#111" stroke="#111" stroke-width="0.45" >9</text>
<path d="M 348.8,408.5 L 355.2,394.2" fill="none" stroke="#222" stroke-width="0.8"/>
<path d="M 369.3,365.3 L 371.7,364.4 L 373.8,365.9 L 373.5,368.3 L 371.4,369.2 L 369.6,367.7 Z" fill="#555" stroke="#222" stroke-width="1.15"/>
<path d="M 373.5,365.9 L 376.8,367.1 L 376.5,368.6 L 373.5,367.7" fill="#fff" stroke="#222" stroke-width="1.03"/>
<text transform="translate(387 355.7) scale(0.76 1)" font-size="12.8" text-anchor="middle" font-weight="normal" fill="#111" stroke="#111" stroke-width="0.45" >8</text>
<path d="M 384.3,356 L 374.4,365" fill="none" stroke="#222" stroke-width="0.8"/>
<path d="M 378.3,380 L 381.8,371.8 L 389.7,368.9 L 402.3,374.9 L 402.9,378.8 L 391.8,391.7 L 378.3,384.8 Z" fill="#fff" stroke="#222" stroke-width="1.38"/>
<path d="M 378.3,382.4 L 391.5,389.3 L 402.9,377" fill="none" stroke="#222" stroke-width="2.3"/>
<path d="M 382.8,373.7 L 389.2,371 L 396.3,374.6 L 390.8,383.6 L 382.2,379.4 Z" fill="#fff" stroke="#222" stroke-width="1.49"/>
<path d="M 385.8,372.8 L 390,375.2 L 393.8,373.7 M 390,375.2 L 387.8,381.5" fill="none" stroke="#222" stroke-width="1.03"/>
<circle cx="387" cy="379.7" r="0.9" fill="none" stroke="#222" stroke-width="0.9"/>
<circle cx="384.3" cy="375.8" r="0.8" fill="#444" stroke="#222" stroke-width="0.6"/>
<circle cx="392.2" cy="377.8" r="0.6" fill="none" stroke="#222" stroke-width="0.8"/>
<path d="M 405,391.4 L 408.4,383.1 L 416.4,380.3 L 429,386.3 L 429.6,390.2 L 418.5,403.1 L 405,396.2 Z" fill="#fff" stroke="#222" stroke-width="1.38"/>
<path d="M 405,393.8 L 418.2,400.7 L 429.6,388.4" fill="none" stroke="#222" stroke-width="2.3"/>
<path d="M 409.5,385.1 L 415.9,382.4 L 423,386 L 417.4,395 L 408.9,390.8 Z" fill="#fff" stroke="#222" stroke-width="1.49"/>
<path d="M 412.5,384.2 L 416.7,386.6 L 420.4,385.1 M 416.7,386.6 L 414.4,392.9" fill="none" stroke="#222" stroke-width="1.03"/>
<circle cx="413.7" cy="391.1" r="0.9" fill="none" stroke="#222" stroke-width="0.9"/>
<circle cx="411" cy="387.2" r="0.8" fill="#444" stroke="#222" stroke-width="0.6"/>
<circle cx="418.9" cy="389.1" r="0.6" fill="none" stroke="#222" stroke-width="0.8"/>
<text transform="translate(415.8 360.5) scale(0.76 1)" font-size="12.8" text-anchor="middle" font-weight="normal" fill="#111" stroke="#111" stroke-width="0.45" >7</text>
<path d="M 416.2,362.3 L 416.7,379.7" fill="none" stroke="#222" stroke-width="0.8"/>
<text transform="translate(377.7 416.8) scale(0.76 1)" font-size="12.8" text-anchor="middle" font-weight="normal" fill="#111" stroke="#111" stroke-width="0.45" >7</text>
<path d="M 379.8,408.5 L 385.8,393.8" fill="none" stroke="#222" stroke-width="0.8"/>
<path d="M 435.4,388.7 L 437.7,388.1 L 439.2,389.6 L 438.9,391.7 L 436.8,392.6 L 435.3,391.1 Z" fill="#555" stroke="#222" stroke-width="1.15"/>
<path d="M 432.3,388.4 L 435.4,389.3 L 435.3,391.1 L 432.3,390.2 Z" fill="#fff" stroke="#222" stroke-width="1.03"/>
<text transform="translate(434.6 371.3) scale(0.76 1)" font-size="12.8" text-anchor="middle" font-weight="normal" fill="#111" stroke="#111" stroke-width="0.45" >8</text>
<path d="M 435,372.8 L 436.2,387.5" fill="none" stroke="#222" stroke-width="0.8"/>
<path d="M 381.8,338 L 387.8,333.5 L 389.7,334.4 L 400.5,346.4 L 398.4,348.8 L 394.5,347 Z" fill="#fff" stroke="#222" stroke-width="1.26"/>
<circle cx="387.3" cy="336.8" r="0.6" fill="none" stroke="#222" stroke-width="0.8"/>
<circle cx="398.2" cy="347" r="0.6" fill="none" stroke="#222" stroke-width="0.8"/>
<path d="M 408.3,341.9 L 418.5,338.6 L 419.1,340.7 L 409.2,344 Z" fill="#fff" stroke="#222" stroke-width="1.15"/>
<path d="M 417.9,336.8 L 420.9,336.2 L 422.1,340.4 L 419.4,341.3 Z" fill="#555" stroke="#222" stroke-width="1.15"/>
<text transform="translate(429.8 351.2) scale(0.76 1)" font-size="12.8" text-anchor="middle" font-weight="normal" fill="#111" stroke="#111" stroke-width="0.45" >28</text>
<path d="M 426,347 L 421.8,341" fill="none" stroke="#222" stroke-width="0.8"/>
<path d="M 400.5,346.4 L 408,343.2" fill="none" stroke="#222" stroke-width="0.57"/>
<clipPath id="cz1"><path d="M600,300 H800 V700 H400 V400 H600 Z"/></clipPath><g clip-path="url(#cz1)"><path d="M600,300 H700 V485 H500 V400 H600 Z" fill="#fff"/>
<path d="M 572.5,300 L 573,310 L 602.5,313.8 L 610,307.5 L 610,300 M 573,310 L 582.5,305 L 608,308 M 582.5,305 L 582.5,300 M 586.2,301.2 L 600,302.5 L 600,307 L 586.2,306 Z" fill="none" stroke="#222" stroke-width="1.15"/>
<path d="M 610,302 L 617.5,300 M 613.8,305.5 L 633.8,302.5 L 635,306 L 615.5,309 Z" fill="none" stroke="#222" stroke-width="1.15"/>
<path d="M 500,308.8 L 515,305 M 500,315 L 513.8,311.2 M 500,323.8 L 505,321.2 M 530,300 L 532.5,310 M 541.2,300 L 537.5,315" fill="none" stroke="#222" stroke-width="1.15"/>
<path d="M 513.8,307.5 L 520.5,360 M 523.8,305 L 529.5,358" fill="none" stroke="#222" stroke-width="1.32"/>
<path d="M 553.8,300 L 525,360 L 498.8,450 M 563,300 L 535,358 L 508,450" fill="none" stroke="#222" stroke-width="1.38"/>
<path d="M 532.5,312.5 L 542.5,310 L 550,315 M 535,322.5 L 546.2,319.5" fill="none" stroke="#222" stroke-width="1.15"/>
<path d="M 500,345 L 510,343.8 L 510.5,350 L 500,351.2 M 500,363.8 L 515,375 M 505,357.5 L 518.8,367.5" fill="none" stroke="#222" stroke-width="1.15"/>
<circle cx="523.8" cy="365" r="1" fill="none" stroke="#222" stroke-width="0.7"/>
<circle cx="520" cy="375" r="1" fill="none" stroke="#222" stroke-width="0.7"/>
<path d="M 552.8,330.5 L 553.2,323.2 Q 558.2,315.5 563.2,323.2 L 563.8,330.5" fill="#fff" stroke="#222" stroke-width="1.44"/>
<path d="M 551.5,331.2 L 552,324 Q 557,316.2 562,324 L 562.5,331.2" fill="#fff" stroke="#222" stroke-width="1.44"/>
<circle cx="557" cy="324.1" r="1.8" fill="#555" stroke="#222" stroke-width="1.2"/>
<path d="M 562.8,328 L 563.2,320.8 Q 567.8,313 572.2,320.8 L 572.8,328" fill="#fff" stroke="#222" stroke-width="1.44"/>
<path d="M 561.5,328.8 L 562,321.5 Q 566.5,313.8 571,321.5 L 571.5,328.8" fill="#fff" stroke="#222" stroke-width="1.44"/>
<circle cx="566.5" cy="321.6" r="1.8" fill="#555" stroke="#222" stroke-width="1.2"/>
<path d="M 555.5,332 L 553,373 M 565.5,330.5 L 563.5,351.2" fill="none" stroke="#222" stroke-width="1.32"/>
<path d="M 571.2,326.2 L 582.5,323.8 L 583.8,332.5 L 565.5,337.5" fill="none" stroke="#222" stroke-width="1.15"/>
<path d="M 612.5,306.2 L 606.2,337.5 M 621.5,306.2 L 615.5,337.5" fill="none" stroke="#222" stroke-width="1.38"/>
<path d="M 621.5,323.8 L 625.5,332.5 L 620.5,345.5 L 616.5,343" fill="none" stroke="#222" stroke-width="1.15"/>
<path d="M 537.5,353 L 608,335 Q 616,338.8 611.5,345.5 L 540,365.5" fill="#fff" stroke="#222" stroke-width="1.38"/>
<path d="M 605,336 Q 610,340 608,346.5" fill="none" stroke="#222" stroke-width="1.03"/>
<path d="M 585.2,360.8 L 585.5,353 Q 591,344.2 597.2,352.5 L 598.2,360.2" fill="#fff" stroke="#222" stroke-width="1.44"/>
<path d="M 584,361.5 L 584.2,353.8 Q 589.8,345 596,353.2 L 597,361" fill="#fff" stroke="#222" stroke-width="1.44"/>
<circle cx="590.1" cy="353.5" r="1.8" fill="none" stroke="#222" stroke-width="1.2"/>
<path d="M 599.2,357.5 L 599.5,349.8 Q 605,341 611.2,349.2 L 612.2,357" fill="#fff" stroke="#222" stroke-width="1.44"/>
<path d="M 598,358.2 L 598.2,350.5 Q 603.8,341.8 610,350 L 611,357.8" fill="#fff" stroke="#222" stroke-width="1.44"/>
<circle cx="604.1" cy="350.2" r="1.8" fill="none" stroke="#222" stroke-width="1.2"/>
<path d="M 580.5,359 L 584,361.2 L 586.2,365.5" fill="none" stroke="#222" stroke-width="1.15"/>
<path d="M 601.2,359.5 L 600.8,402.5 Q 605,410.5 612.5,406.2 L 613,400 L 610.5,359.5" fill="#fff" stroke="#222" stroke-width="1.38"/>
<path d="M 601,387.5 L 611.5,387.5 M 612.5,406.2 L 614.5,400.5 L 613,395" fill="none" stroke="#222" stroke-width="1.03"/>
<path d="M 528.8,382.8 L 528.5,375.5 Q 534.2,367 542,373.8 L 543.8,380.8" fill="#fff" stroke="#222" stroke-width="1.44"/>
<path d="M 527.5,383.5 L 527.2,376.2 Q 533,367.8 540.8,374.5 L 542.5,381.5" fill="#fff" stroke="#222" stroke-width="1.44"/>
<circle cx="534" cy="375.4" r="1.8" fill="none" stroke="#222" stroke-width="1.2"/>
<path d="M 544.2,379.8 L 544,372.8 Q 548.8,364.5 555.5,371 L 557.2,377.8" fill="#fff" stroke="#222" stroke-width="1.44"/>
<path d="M 543,380.5 L 542.8,373.5 Q 547.5,365.2 554.2,371.8 L 556,378.5" fill="#fff" stroke="#222" stroke-width="1.44"/>
<circle cx="548.5" cy="372.7" r="1.8" fill="none" stroke="#222" stroke-width="1.2"/>
<path d="M 526.2,382.5 L 515,386.2 M 527.5,375 L 537.5,353 M 525,386.2 L 526.2,400" fill="none" stroke="#222" stroke-width="1.26"/>
<path d="M 542.5,389.5 L 543.8,399 L 583,410.5 M 542.5,389.5 L 553.8,386.2 M 558.8,382.5 L 560,391.2 M 543.8,399 L 535,402.5 M 555,387.5 L 582.5,396.2 L 600,401.2" fill="none" stroke="#222" stroke-width="1.32"/>
<ellipse cx="564" cy="387.5" rx="2.8" ry="3.5" fill="#fff" stroke="#222" stroke-width="1.3" transform="rotate(0 564 387.5)"/>
<ellipse cx="564" cy="387.5" rx="1.2" ry="1.8" fill="#888" stroke="#222" stroke-width="0.9" transform="rotate(0 564 387.5)"/>
<path d="M 556.2,381.2 L 561.2,385.5" fill="none" stroke="#222" stroke-width="1.03"/>
<text transform="translate(553.8 414.5) scale(0.76 1)" font-size="12.8" text-anchor="middle" font-weight="normal" fill="#111" stroke="#111" stroke-width="0.45" >3</text>
<path d="M 555.5,405 L 562.5,391.2" fill="none" stroke="#222" stroke-width="0.8"/>
<path d="M 570,387.5 L 578.8,381.2 L 592.5,379.5 L 600.5,383.8 L 601,395 L 587.5,400.5 L 572.5,398.8 Z" fill="#fff" stroke="#222" stroke-width="1.32"/>
<path d="M 578.8,381.2 L 580.5,390 L 601,387.5 M 580.5,390 L 572.5,398.8 M 586.2,380 L 587.5,388.8" fill="none" stroke="#222" stroke-width="1.15"/>
<ellipse cx="579" cy="392" rx="2" ry="2.8" fill="none" stroke="#222" stroke-width="1.0" transform="rotate(0 579 392)"/>
<circle cx="596.2" cy="396.2" r="0.8" fill="none" stroke="#222" stroke-width="0.7"/>
<path d="M 519,407.5 L 522.2,400 Q 529.8,393 530.8,403 L 528.5,411" fill="#fff" stroke="#222" stroke-width="1.44"/>
<path d="M 517.8,408.2 L 521,400.8 Q 528.5,393.8 529.5,403.8 L 527.2,411.8" fill="#fff" stroke="#222" stroke-width="1.44"/>
<circle cx="525.3" cy="402.2" r="1.8" fill="none" stroke="#222" stroke-width="1.2"/>
<path d="M 537.5,417.2 L 541.2,409 Q 549.5,401.8 550.5,412.8 L 547.5,421.2" fill="#fff" stroke="#222" stroke-width="1.44"/>
<path d="M 536.2,418 L 540,409.8 Q 548.2,402.5 549.2,413.5 L 546.2,422" fill="#fff" stroke="#222" stroke-width="1.44"/>
<circle cx="544.6" cy="411.7" r="1.8" fill="none" stroke="#222" stroke-width="1.2"/>
<path d="M 576.8,418.5 L 578.2,412 Q 583.8,405.8 587,413.2 L 586.8,420" fill="#fff" stroke="#222" stroke-width="1.44"/>
<path d="M 575.5,419.2 L 577,412.8 Q 582.5,406.5 585.8,414 L 585.5,420.8" fill="#fff" stroke="#222" stroke-width="1.44"/>
<circle cx="581.4" cy="413.5" r="1.5" fill="none" stroke="#222" stroke-width="1.2"/>
<path d="M 584.2,416 L 585.8,409.5 Q 591.2,403.2 594.5,410.8 L 594.2,417.5" fill="#fff" stroke="#222" stroke-width="1.44"/>
<path d="M 583,416.8 L 584.5,410.2 Q 590,404 593.2,411.5 L 593,418.2" fill="#fff" stroke="#222" stroke-width="1.44"/>
<circle cx="588.9" cy="411" r="1.5" fill="none" stroke="#222" stroke-width="1.2"/>
<path d="M 594.2,412.2 L 595.8,405.8 Q 601.2,399.5 604.5,407 L 604.2,413.8" fill="#fff" stroke="#222" stroke-width="1.44"/>
<path d="M 593,413 L 594.5,406.5 Q 600,400.2 603.2,407.8 L 603,414.5" fill="#fff" stroke="#222" stroke-width="1.44"/>
<circle cx="598.9" cy="407.2" r="1.5" fill="none" stroke="#222" stroke-width="1.2"/>
<path d="M 535.8,434.2 L 537.8,428 Q 544,422 547.5,430 L 546.8,436.8" fill="#fff" stroke="#222" stroke-width="1.44"/>
<path d="M 534.5,435 L 536.5,428.8 Q 542.8,422.8 546.2,430.8 L 545.5,437.5" fill="#fff" stroke="#222" stroke-width="1.44"/>
<circle cx="541.4" cy="429.8" r="1.5" fill="none" stroke="#222" stroke-width="1.2"/>
<path d="M 547,429.2 L 549,423 Q 555.2,417 558.8,425 L 558,431.8" fill="#fff" stroke="#222" stroke-width="1.44"/>
<path d="M 545.8,430 L 547.8,423.8 Q 554,417.8 557.5,425.8 L 556.8,432.5" fill="#fff" stroke="#222" stroke-width="1.44"/>
<circle cx="552.6" cy="424.8" r="1.5" fill="none" stroke="#222" stroke-width="1.2"/>
<path d="M 500,398.8 L 515,395 L 527.5,398 M 500,407.5 L 517.5,410 M 527.5,412.5 L 536.2,417.5 M 546.2,422.5 L 575,415.5" fill="none" stroke="#222" stroke-width="1.32"/>
<path d="M 507.5,443 L 535,428.8 M 500,460 L 535,441.2 L 575,422.5 L 600.8,410 M 557.5,430 L 582.5,420 M 556.2,433.8 L 575,426.2" fill="none" stroke="#222" stroke-width="1.38"/>
<path d="M 500,417.5 L 510,416.2 L 511.2,425 L 500,427.5 M 510,430 L 522.5,426.2 L 523.8,433.8 L 515,437 Z M 517.5,440 L 518.8,445" fill="none" stroke="#222" stroke-width="1.15"/>
<ellipse cx="503.8" cy="470" rx="3.2" ry="2.8" fill="#fff" stroke="#222" stroke-width="1.6" transform="rotate(0 503.8 470)"/>
<ellipse cx="503.8" cy="470" rx="1.5" ry="1.2" fill="#999" stroke="#222" stroke-width="0.9" transform="rotate(0 503.8 470)"/>
<text transform="translate(520.5 468) scale(0.76 1)" font-size="12.8" text-anchor="middle" font-weight="normal" fill="#111" stroke="#111" stroke-width="0.45" >6</text>
<path d="M 508,468.8 L 515.5,466.2" fill="none" stroke="#222" stroke-width="0.8"/>
<path d="M 555,359 L 642.5,388 L 642.5,383.8 M 535,368 L 656.2,396.5 L 656.2,388 M 610,393 L 642.5,405.5 L 642.5,420 M 656.2,408 L 656.2,425" fill="none" stroke="#222" stroke-width="0.63" stroke-dasharray="10 2 2 2"/>
<path d="M 641.2,376 L 643.8,376 L 643.8,382.5 L 641.2,382.5 Z" fill="#fff" stroke="#222" stroke-width="1.03"/>
<ellipse cx="642.5" cy="376" rx="4" ry="1.5" fill="#fff" stroke="#222" stroke-width="1.0" transform="rotate(0 642.5 376)"/>
<path d="M 639.8,373.2 L 641.5,371.8 L 644.2,372 L 645.2,374.5 L 643.5,376 L 640.8,375.5 Z" fill="#666" stroke="#222" stroke-width="1.15"/>
<path d="M 655,382 L 657.5,382 L 657.5,388.5 L 655,388.5 Z" fill="#fff" stroke="#222" stroke-width="1.03"/>
<ellipse cx="656.2" cy="382" rx="4" ry="1.5" fill="#fff" stroke="#222" stroke-width="1.0" transform="rotate(0 656.2 382)"/>
<path d="M 653.5,379.2 L 655.2,377.8 L 658,378 L 659,380.5 L 657.2,382 L 654.5,381.5 Z" fill="#666" stroke="#222" stroke-width="1.15"/>
<text transform="translate(662 364.5) scale(0.76 1)" font-size="12.8" text-anchor="middle" font-weight="normal" fill="#111" stroke="#111" stroke-width="0.45" >5</text>
<path d="M 660,366 L 646.2,373.5" fill="none" stroke="#222" stroke-width="0.8"/>
<path d="M 661,367 L 658.5,377" fill="none" stroke="#222" stroke-width="0.8"/>
<path d="M 635,425 Q 634.5,421.5 639.5,419.5 L 647,417 L 665,424.5 Q 670,427 669,432.5 Q 667,438 661.5,437 L 638,429.5 Q 635,428 635,425 Z" fill="#fff" stroke="#222" stroke-width="1.38"/>
<path d="M 639.5,419.5 L 660,427.5 Q 664,430 662.5,436.5 M 639.5,419.5 Q 636.5,422.5 638,429.5" fill="none" stroke="#222" stroke-width="1.15"/>
<circle cx="665.5" cy="433" r="1" fill="none" stroke="#222" stroke-width="0.8"/>
<circle cx="644.5" cy="421.5" r="0.8" fill="#444" stroke="#222" stroke-width="0.5"/>
<circle cx="657" cy="427.5" r="0.8" fill="#444" stroke="#222" stroke-width="0.5"/>
<text transform="translate(680.5 426.5) scale(0.76 1)" font-size="12.8" text-anchor="middle" font-weight="normal" fill="#111" stroke="#111" stroke-width="0.45" >30</text>
<path d="M 675,425 L 669,430" fill="none" stroke="#222" stroke-width="0.8"/>
</g>
<path d="M 463.8,214.5 L 466.2,214.5 L 466.2,218 L 463.8,218 Z" fill="#fff" stroke="#222" stroke-width="0.8"/>
<path d="M 462.5,209.5 L 467.5,209.5 L 467.5,214.5 L 462.5,214.5 Z" fill="#666" stroke="#222" stroke-width="1.03"/>
<path d="M 460.5,228 L 466.2,226 L 470.5,229 L 470.5,235.5 L 475,237 L 474.5,240 L 470,240.5 L 467,237.5 L 467,230.5 L 462.5,230 Z" fill="#fff" stroke="#222" stroke-width="1.15"/>
<circle cx="465.5" cy="228" r="1" fill="none" stroke="#222" stroke-width="0.7"/>
<text transform="translate(441.2 231.8) scale(0.76 1)" font-size="12.8" text-anchor="middle" font-weight="normal" fill="#111" stroke="#111" stroke-width="0.45" >22</text>
<path d="M 447,225 L 461.2,215" fill="none" stroke="#222" stroke-width="0.8"/>
<text transform="translate(441.2 246.8) scale(0.76 1)" font-size="12.8" text-anchor="middle" font-weight="normal" fill="#111" stroke="#111" stroke-width="0.45" >23</text>
<path d="M 447.5,240 L 461.2,230.5" fill="none" stroke="#222" stroke-width="0.8"/>
<text transform="translate(30 636) rotate(-34.4)" font-size="40" letter-spacing="-1.5" fill="#000" opacity="0.07" style="font-family:'Liberation Serif',serif">CFMOTO</text>
<text transform="translate(186 530) rotate(-34.4)" font-size="40" letter-spacing="8" fill="#000" opacity="0.07" style="font-family:'Liberation Serif',serif">kto</text>
<text transform="translate(352 428) rotate(-35)" font-size="40" letter-spacing="4" fill="#000" opacity="0.07" style="font-family:'Liberation Serif',serif">2024-11-12</text>
<text transform="translate(606 290) rotate(-36.9)" font-size="41" letter-spacing="5.5" fill="#000" opacity="0.07" style="font-family:'Liberation Serif',serif">12:41:42</text>
</svg>
</body></html>
